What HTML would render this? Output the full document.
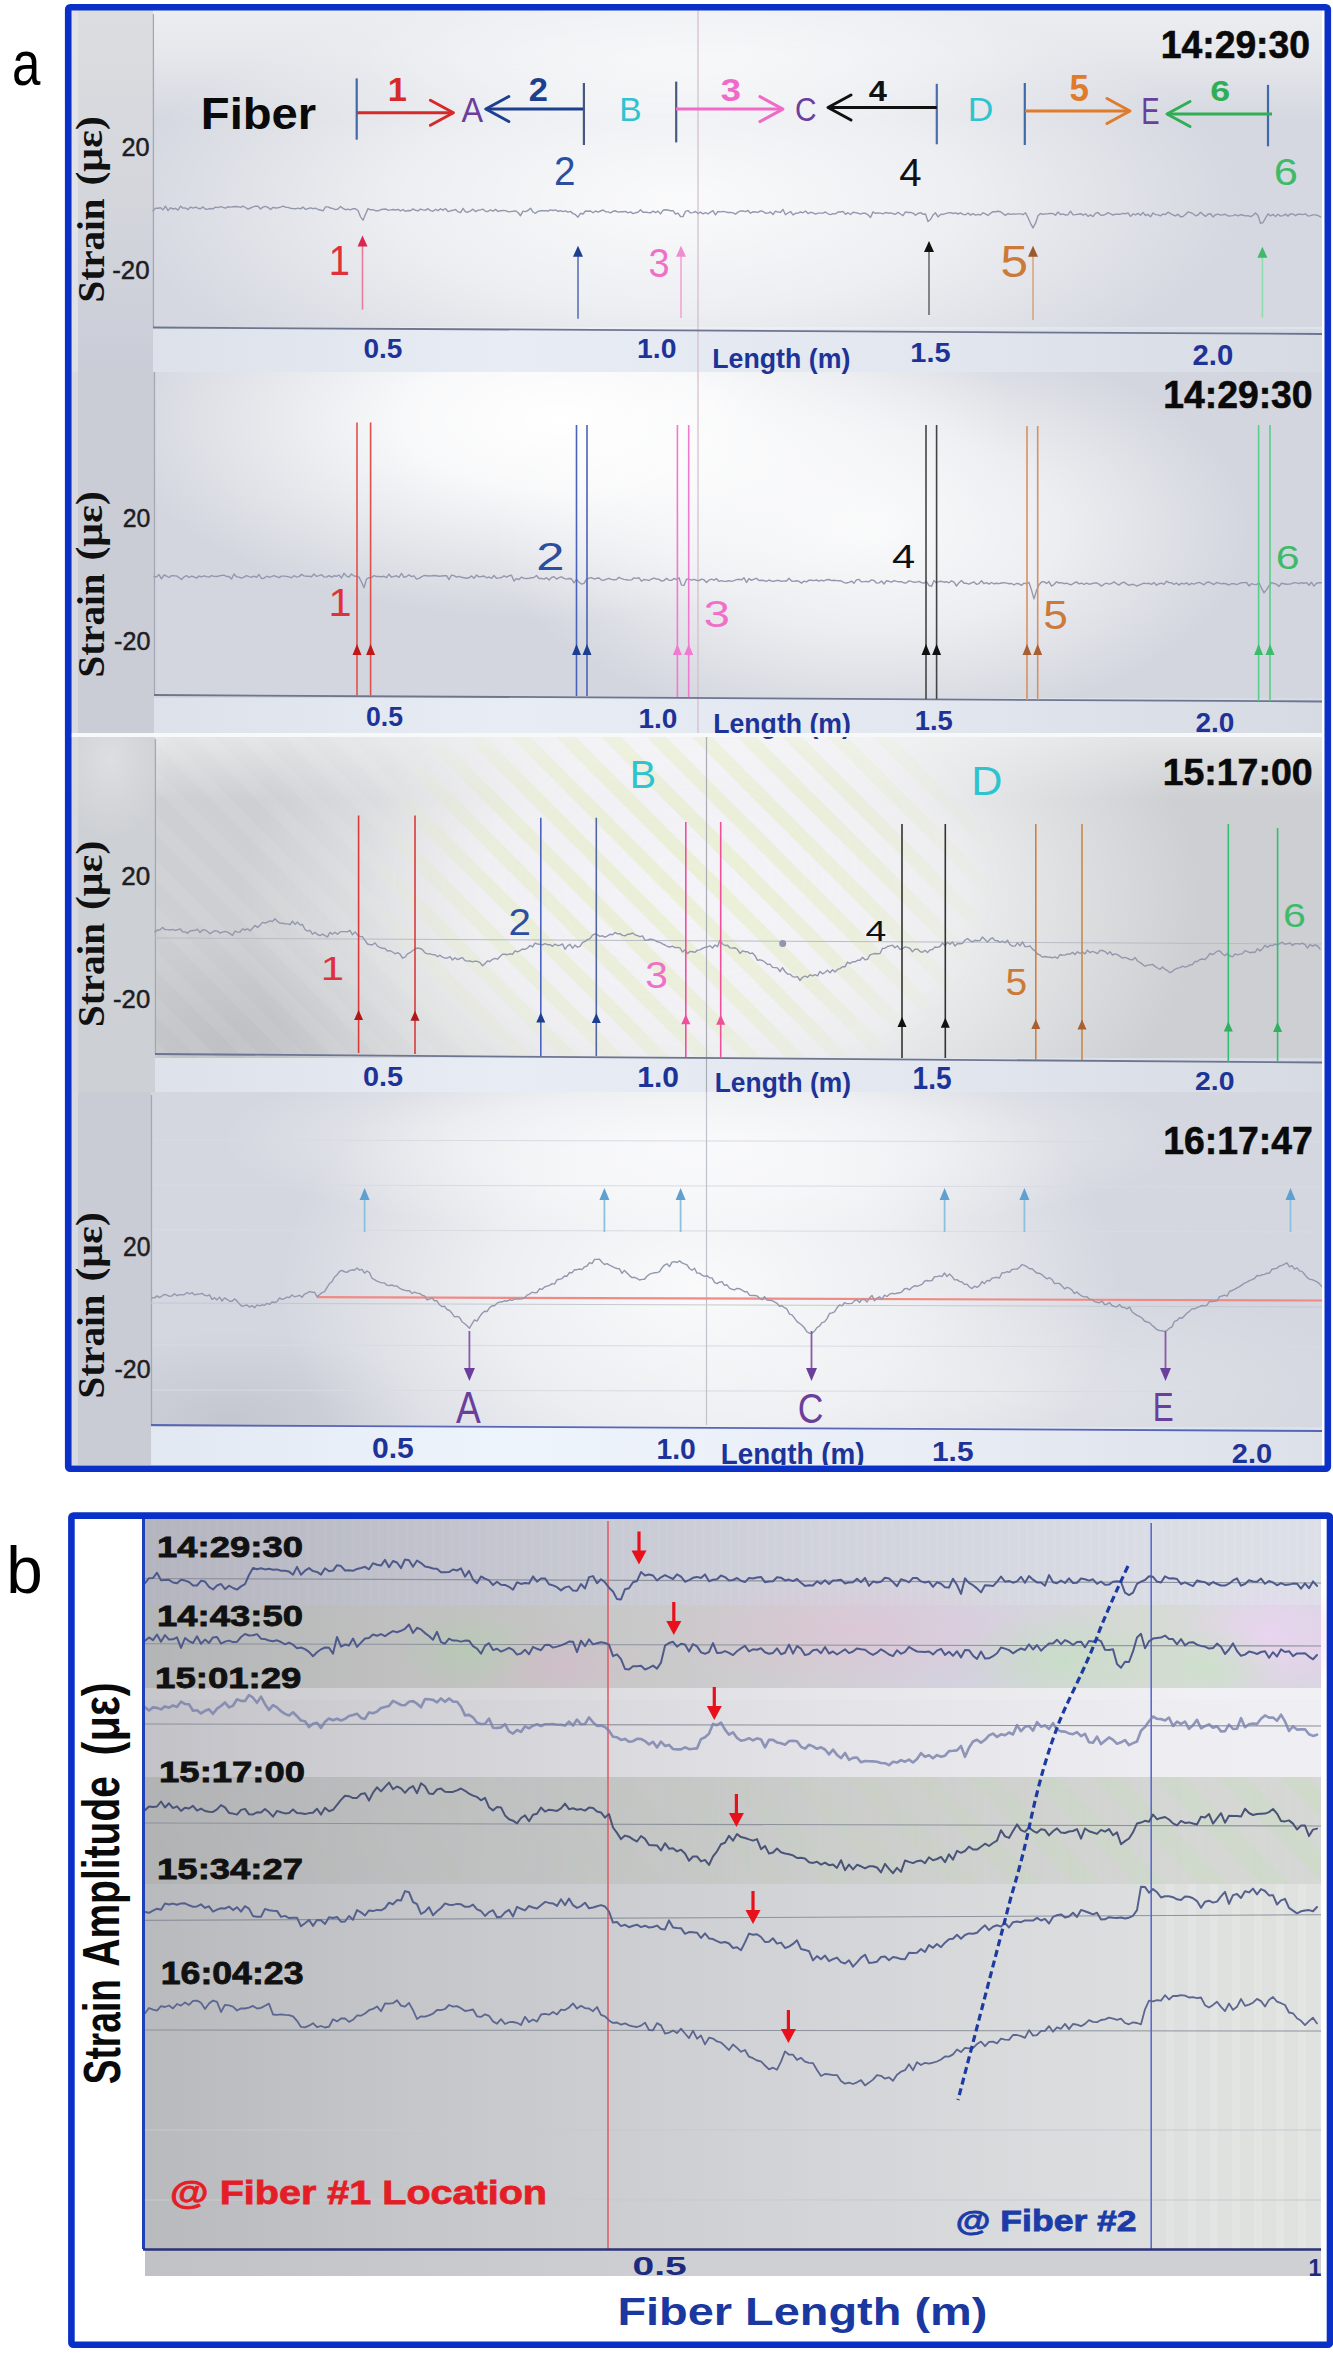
<!DOCTYPE html>
<html><head><meta charset="utf-8"><style>
html,body{margin:0;padding:0;background:#fff;}
body{width:1333px;height:2363px;overflow:hidden;}
svg{display:block;}
text{white-space:pre;}
</style></head><body>
<svg width="1333" height="2363" viewBox="0 0 1333 2363">
<rect x="0" y="0" width="1333" height="2363" fill="#ffffff"/>
<defs><radialGradient id="gl85"><stop offset="0" stop-color="#fff" stop-opacity="0.88"/><stop offset="0.5" stop-color="#fff" stop-opacity="0.58"/><stop offset="1" stop-color="#fff" stop-opacity="0"/></radialGradient><radialGradient id="gl100"><stop offset="0" stop-color="#fff" stop-opacity="1"/><stop offset="0.35" stop-color="#fff" stop-opacity="0.85"/><stop offset="1" stop-color="#fff" stop-opacity="0"/></radialGradient><radialGradient id="gl80"><stop offset="0" stop-color="#fff" stop-opacity="0.8"/><stop offset="0.5" stop-color="#fff" stop-opacity="0.62"/><stop offset="1" stop-color="#fff" stop-opacity="0"/></radialGradient><radialGradient id="gl50"><stop offset="0" stop-color="#fff" stop-opacity="0.5"/><stop offset="1" stop-color="#fff" stop-opacity="0"/></radialGradient><radialGradient id="sh"><stop offset="0" stop-color="#8a8c94" stop-opacity="0.22"/><stop offset="1" stop-color="#8a8c94" stop-opacity="0"/></radialGradient><radialGradient id="maskG"><stop offset="0" stop-color="#fff" stop-opacity="1"/><stop offset="0.6" stop-color="#fff" stop-opacity="0.7"/><stop offset="1" stop-color="#fff" stop-opacity="0"/></radialGradient><pattern id="stripL" width="32" height="32" patternUnits="userSpaceOnUse" patternTransform="rotate(-45)"><rect width="32" height="32" fill="#f4f2f8"/><rect width="14" height="32" fill="#e6edc8"/></pattern><pattern id="stripG" width="32" height="32" patternUnits="userSpaceOnUse" patternTransform="rotate(-45)"><rect width="14" height="32" fill="#ffffff" fill-opacity="0.06"/></pattern><mask id="m3"><rect x="360" y="640" width="640" height="480" fill="url(#maskG)"/></mask><linearGradient id="topW" x1="0" y1="0" x2="0" y2="1"><stop offset="0" stop-color="#fff" stop-opacity="0.55"/><stop offset="0.4" stop-color="#fff" stop-opacity="0.4"/><stop offset="1" stop-color="#fff" stop-opacity="0"/></linearGradient><linearGradient id="belowG" x1="0" y1="0" x2="1" y2="0"><stop offset="0" stop-color="#dce1ea"/><stop offset="0.3" stop-color="#e7ecf5"/><stop offset="0.65" stop-color="#e3e7ef"/><stop offset="1" stop-color="#d6dae2"/></linearGradient><linearGradient id="belowG4" x1="0" y1="0" x2="1" y2="0"><stop offset="0" stop-color="#e2e8f2"/><stop offset="0.3" stop-color="#eef4fc"/><stop offset="0.65" stop-color="#e8edf6"/><stop offset="1" stop-color="#dce0e8"/></linearGradient><linearGradient id="lsP1v" x1="0" y1="0" x2="0" y2="1"><stop offset="0" stop-color="#dcdde0"/><stop offset="0.5" stop-color="#d4d6dc"/><stop offset="1" stop-color="#cacdd8"/></linearGradient><linearGradient id="topW3" x1="0" y1="0" x2="0" y2="1"><stop offset="0" stop-color="#fff" stop-opacity="0.45"/><stop offset="1" stop-color="#fff" stop-opacity="0"/></linearGradient><clipPath id="cP1"><rect x="71" y="10" width="1251" height="362"/></clipPath><clipPath id="cP2"><rect x="71" y="372" width="1251" height="361"/></clipPath><clipPath id="cP3"><rect x="71" y="737" width="1251" height="355"/></clipPath><clipPath id="cP4"><rect x="71" y="1092" width="1251" height="373"/></clipPath><clipPath id="clipA"><rect x="71" y="10" width="1251" height="1455"/></clipPath></defs>
<g clip-path="url(#clipA)">
<rect x="71" y="10" width="1251" height="1455" fill="#d8dbe2" />
<g clip-path="url(#cP1)">
<rect x="153" y="10" width="1169" height="317" fill="#d5d8e0" />
<rect x="153" y="327" width="1169" height="45" fill="#dfe3eb" />
<ellipse cx="680" cy="200" rx="560" ry="220" fill="url(#gl85)"/>
<rect x="153" y="10" width="1169" height="110" fill="url(#topW)"/>
<ellipse cx="700" cy="60" rx="350" ry="70" fill="url(#gl50)"/>
<rect x="153" y="329" width="1169" height="43" fill="url(#belowG)"/>
<rect x="71" y="10" width="82" height="362" fill="url(#lsP1v)" />
<rect x="72" y="10" width="6" height="362" fill="#e4e5ea" opacity="0.8"/>
</g>
<g clip-path="url(#cP2)">
<rect x="154" y="372" width="1168" height="361" fill="#d3d6de" />
<ellipse cx="560" cy="420" rx="450" ry="200" fill="url(#gl100)"/>
<ellipse cx="870" cy="530" rx="380" ry="200" fill="url(#gl85)"/>
<rect x="154" y="698" width="1168" height="35" fill="url(#belowG)"/>
<rect x="71" y="372" width="83" height="361" fill="#cacdd6" />
<rect x="72" y="372" width="6" height="361" fill="#dcdde4" opacity="0.8"/>
</g>
<rect x="71" y="733" width="1251" height="4" fill="#f7f8fa" />
<g clip-path="url(#cP3)">
<rect x="155" y="737" width="1167" height="355" fill="#cdcfd2" />
<ellipse cx="230" cy="1040" rx="200" ry="110" fill="url(#sh)"/>
<ellipse cx="720" cy="900" rx="480" ry="330" fill="url(#gl80)"/>
<rect x="155" y="737" width="1167" height="63" fill="url(#topW3)"/>
<rect x="155" y="737" width="605" height="321" fill="url(#stripG)" />
<rect x="360" y="737" width="640" height="321" fill="url(#stripL)" mask="url(#m3)" opacity="0.7"/>
<rect x="155" y="1058" width="1167" height="34" fill="url(#belowG)"/>
<rect x="71" y="737" width="84" height="355" fill="#cdd0d4" />
<ellipse cx="110" cy="760" rx="60" ry="80" fill="url(#gl50)" opacity="0.6"/>
<rect x="72" y="737" width="6" height="355" fill="#dadbe0" opacity="0.8"/>
</g>
<g clip-path="url(#cP4)">
<rect x="151" y="1092" width="1171" height="373" fill="#d4d7df" />
<ellipse cx="230" cy="1420" rx="200" ry="90" fill="url(#sh)"/>
<ellipse cx="700" cy="1290" rx="420" ry="280" fill="url(#gl85)"/>
<ellipse cx="700" cy="1140" rx="480" ry="100" fill="url(#gl85)" opacity="0.8"/>
<ellipse cx="1000" cy="1390" rx="380" ry="110" fill="url(#gl50)" opacity="0.6"/>
<rect x="151" y="1427" width="1171" height="38" fill="url(#belowG4)"/>
<rect x="71" y="1092" width="80" height="373" fill="#c9ccd5" />
<rect x="72" y="1092" width="6" height="373" fill="#dcdde4" opacity="0.8"/>
</g>
<rect x="1322" y="10" width="4" height="1455" fill="#f4f6fa" />
<line x1="151" y1="1140" x2="1322" y2="1142" stroke="#d8dbe2" stroke-width="1" />
<line x1="151" y1="1185" x2="1322" y2="1187" stroke="#d8dbe2" stroke-width="1" />
<line x1="151" y1="1230" x2="1322" y2="1232" stroke="#d8dbe2" stroke-width="1" />
<line x1="151" y1="1345" x2="1322" y2="1347" stroke="#d8dbe2" stroke-width="1" />
<line x1="151" y1="1390" x2="1322" y2="1392" stroke="#d8dbe2" stroke-width="1" />
<line x1="698" y1="10" x2="698" y2="733" stroke="#d2bcc8" stroke-width="1.2" />
<line x1="706.5" y1="737" x2="706.5" y2="1092" stroke="#a9acb4" stroke-width="1.2" />
<line x1="706.5" y1="1092" x2="706.5" y2="1425" stroke="#bfc2c9" stroke-width="1.2" />
<line x1="153.4" y1="14" x2="153.4" y2="327" stroke="#a4a8b6" stroke-width="1.3" />
<line x1="153" y1="327.5" x2="1322" y2="334" stroke="#6e7590" stroke-width="1.8" />
<line x1="154.5" y1="372" x2="154.5" y2="694" stroke="#a4a8b6" stroke-width="1.3" />
<line x1="154" y1="695" x2="1322" y2="701.5" stroke="#6e7590" stroke-width="1.8" />
<line x1="155.4" y1="739" x2="155.4" y2="1054" stroke="#a4a8b6" stroke-width="1.3" />
<line x1="155" y1="1054" x2="1322" y2="1062.5" stroke="#6e7590" stroke-width="1.8" />
<line x1="151.5" y1="1095" x2="151.5" y2="1425" stroke="#a4a8b6" stroke-width="1.3" />
<line x1="151" y1="1425" x2="1322" y2="1431" stroke="#5866b8" stroke-width="1.8" />
<text x="0" y="0" transform="translate(103.63,302.58) rotate(-90)" font-family="Liberation Serif" font-size="37.52" font-weight="bold" fill="#111" textLength="104.17" lengthAdjust="spacingAndGlyphs">Strain</text>
<text x="0" y="0" transform="translate(102.48,185.54) rotate(-90)" font-family="Liberation Serif" font-size="38.16" font-weight="bold" fill="#111" textLength="69.37" lengthAdjust="spacingAndGlyphs">(με)</text>
<text x="0" y="0" transform="translate(103.63,677.58) rotate(-90)" font-family="Liberation Serif" font-size="37.52" font-weight="bold" fill="#111" textLength="104.17" lengthAdjust="spacingAndGlyphs">Strain</text>
<text x="0" y="0" transform="translate(102.48,560.54) rotate(-90)" font-family="Liberation Serif" font-size="38.16" font-weight="bold" fill="#111" textLength="69.37" lengthAdjust="spacingAndGlyphs">(με)</text>
<text x="0" y="0" transform="translate(103.63,1027.08) rotate(-90)" font-family="Liberation Serif" font-size="37.52" font-weight="bold" fill="#111" textLength="104.17" lengthAdjust="spacingAndGlyphs">Strain</text>
<text x="0" y="0" transform="translate(102.48,910.04) rotate(-90)" font-family="Liberation Serif" font-size="38.16" font-weight="bold" fill="#111" textLength="69.37" lengthAdjust="spacingAndGlyphs">(με)</text>
<text x="0" y="0" transform="translate(103.63,1398.58) rotate(-90)" font-family="Liberation Serif" font-size="37.52" font-weight="bold" fill="#111" textLength="104.17" lengthAdjust="spacingAndGlyphs">Strain</text>
<text x="0" y="0" transform="translate(102.48,1281.54) rotate(-90)" font-family="Liberation Serif" font-size="38.16" font-weight="bold" fill="#111" textLength="69.37" lengthAdjust="spacingAndGlyphs">(με)</text>
<text x="121.43" y="156.00" font-family="Liberation Sans" font-size="26.07" font-weight="normal" fill="#1e1e22" textLength="28.16" lengthAdjust="spacingAndGlyphs" stroke="#1e1e22" stroke-width="0.5">20</text>
<text x="112.25" y="278.80" font-family="Liberation Sans" font-size="25.92" font-weight="normal" fill="#1e1e22" textLength="37.36" lengthAdjust="spacingAndGlyphs" stroke="#1e1e22" stroke-width="0.5">-20</text>
<text x="122.75" y="527.40" font-family="Liberation Sans" font-size="26.64" font-weight="normal" fill="#1e1e22" textLength="27.62" lengthAdjust="spacingAndGlyphs" stroke="#1e1e22" stroke-width="0.5">20</text>
<text x="114.08" y="650.40" font-family="Liberation Sans" font-size="26.64" font-weight="normal" fill="#1e1e22" textLength="36.30" lengthAdjust="spacingAndGlyphs" stroke="#1e1e22" stroke-width="0.5">-20</text>
<text x="121.29" y="884.80" font-family="Liberation Sans" font-size="26.64" font-weight="normal" fill="#1e1e22" textLength="28.92" lengthAdjust="spacingAndGlyphs" stroke="#1e1e22" stroke-width="0.5">20</text>
<text x="113.06" y="1007.80" font-family="Liberation Sans" font-size="26.64" font-weight="normal" fill="#1e1e22" textLength="37.15" lengthAdjust="spacingAndGlyphs" stroke="#1e1e22" stroke-width="0.5">-20</text>
<text x="123.06" y="1256.10" font-family="Liberation Sans" font-size="26.92" font-weight="normal" fill="#1e1e22" textLength="27.51" lengthAdjust="spacingAndGlyphs" stroke="#1e1e22" stroke-width="0.5">20</text>
<text x="114.59" y="1377.80" font-family="Liberation Sans" font-size="26.64" font-weight="normal" fill="#1e1e22" textLength="35.98" lengthAdjust="spacingAndGlyphs" stroke="#1e1e22" stroke-width="0.5">-20</text>
<text x="363.39" y="357.60" font-family="Liberation Sans" font-size="28.36" font-weight="bold" fill="#1d3398" textLength="38.99" lengthAdjust="spacingAndGlyphs" >0.5</text>
<text x="637.01" y="358.20" font-family="Liberation Sans" font-size="28.36" font-weight="bold" fill="#1d3398" textLength="39.45" lengthAdjust="spacingAndGlyphs" >1.0</text>
<text x="910.38" y="361.60" font-family="Liberation Sans" font-size="28.49" font-weight="bold" fill="#1d3398" textLength="40.23" lengthAdjust="spacingAndGlyphs" >1.5</text>
<text x="1192.48" y="364.60" font-family="Liberation Sans" font-size="28.93" font-weight="bold" fill="#1d3398" textLength="40.72" lengthAdjust="spacingAndGlyphs" >2.0</text>
<text x="366.05" y="726.30" font-family="Liberation Sans" font-size="27.07" font-weight="bold" fill="#1d3398" textLength="36.99" lengthAdjust="spacingAndGlyphs" >0.5</text>
<text x="638.54" y="727.60" font-family="Liberation Sans" font-size="27.50" font-weight="bold" fill="#1d3398" textLength="38.91" lengthAdjust="spacingAndGlyphs" >1.0</text>
<text x="914.77" y="729.60" font-family="Liberation Sans" font-size="27.91" font-weight="bold" fill="#1d3398" textLength="38.09" lengthAdjust="spacingAndGlyphs" >1.5</text>
<text x="1195.53" y="731.60" font-family="Liberation Sans" font-size="27.50" font-weight="bold" fill="#1d3398" textLength="38.92" lengthAdjust="spacingAndGlyphs" >2.0</text>
<text x="362.96" y="1086.20" font-family="Liberation Sans" font-size="26.92" font-weight="bold" fill="#1d3398" textLength="40.15" lengthAdjust="spacingAndGlyphs" >0.5</text>
<text x="637.21" y="1087.20" font-family="Liberation Sans" font-size="30.22" font-weight="bold" fill="#1d3398" textLength="41.72" lengthAdjust="spacingAndGlyphs" >1.0</text>
<text x="912.53" y="1089.30" font-family="Liberation Sans" font-size="30.67" font-weight="bold" fill="#1d3398" textLength="39.05" lengthAdjust="spacingAndGlyphs" >1.5</text>
<text x="1195.02" y="1090.00" font-family="Liberation Sans" font-size="26.64" font-weight="bold" fill="#1d3398" textLength="39.45" lengthAdjust="spacingAndGlyphs" >2.0</text>
<text x="371.91" y="1457.60" font-family="Liberation Sans" font-size="28.93" font-weight="bold" fill="#1d3398" textLength="41.83" lengthAdjust="spacingAndGlyphs" >0.5</text>
<text x="656.52" y="1458.60" font-family="Liberation Sans" font-size="29.79" font-weight="bold" fill="#1d3398" textLength="39.34" lengthAdjust="spacingAndGlyphs" >1.0</text>
<text x="932.02" y="1460.60" font-family="Liberation Sans" font-size="27.91" font-weight="bold" fill="#1d3398" textLength="41.51" lengthAdjust="spacingAndGlyphs" >1.5</text>
<text x="1231.89" y="1462.60" font-family="Liberation Sans" font-size="27.50" font-weight="bold" fill="#1d3398" textLength="40.40" lengthAdjust="spacingAndGlyphs" >2.0</text>
<text x="712.21" y="368.00" font-family="Liberation Sans" font-size="27.60" font-weight="bold" fill="#1d3398" textLength="138.12" lengthAdjust="spacingAndGlyphs" >Length (m)</text>
<text x="713.22" y="733.00" font-family="Liberation Sans" font-size="27.60" font-weight="bold" fill="#1d3398" textLength="137.71" lengthAdjust="spacingAndGlyphs" >Length (m)</text>
<text x="714.74" y="1092.00" font-family="Liberation Sans" font-size="27.60" font-weight="bold" fill="#1d3398" textLength="136.28" lengthAdjust="spacingAndGlyphs" >Length (m)</text>
<text x="720.74" y="1464.00" font-family="Liberation Sans" font-size="28.98" font-weight="bold" fill="#1d3398" textLength="143.85" lengthAdjust="spacingAndGlyphs" >Length (m)</text>
<text x="1160.75" y="57.90" font-family="Liberation Sans" font-size="38.53" font-weight="bold" fill="#0a0a0a" textLength="149.28" lengthAdjust="spacingAndGlyphs" stroke="#0a0a0a" stroke-width="0.6">14:29:30</text>
<text x="1163.25" y="407.90" font-family="Liberation Sans" font-size="38.53" font-weight="bold" fill="#0a0a0a" textLength="149.38" lengthAdjust="spacingAndGlyphs" stroke="#0a0a0a" stroke-width="0.6">14:29:30</text>
<text x="1162.64" y="785.40" font-family="Liberation Sans" font-size="37.52" font-weight="bold" fill="#0a0a0a" textLength="150.00" lengthAdjust="spacingAndGlyphs" stroke="#0a0a0a" stroke-width="0.6">15:17:00</text>
<text x="1163.25" y="1154.10" font-family="Liberation Sans" font-size="38.38" font-weight="bold" fill="#0a0a0a" textLength="149.49" lengthAdjust="spacingAndGlyphs" stroke="#0a0a0a" stroke-width="0.6">16:17:47</text>
<text x="200.84" y="129.00" font-family="Liberation Sans" font-size="44.71" font-weight="bold" fill="#0a0a0a" textLength="115.37" lengthAdjust="spacingAndGlyphs" >Fiber</text>
<line x1="356.7" y1="78.4" x2="356.7" y2="139.7" stroke="#3f6aa6" stroke-width="2.2" />
<line x1="583.9" y1="83" x2="583.9" y2="145" stroke="#44587e" stroke-width="2.2" />
<line x1="676.2" y1="81.6" x2="676.2" y2="142.4" stroke="#4a5a7e" stroke-width="2.2" />
<line x1="936.8" y1="83.8" x2="936.8" y2="144.3" stroke="#4f6bb0" stroke-width="2.2" />
<line x1="1024.8" y1="83" x2="1024.8" y2="145" stroke="#3f6aa6" stroke-width="2.2" />
<line x1="1268" y1="84.9" x2="1268" y2="146.3" stroke="#3f6aa6" stroke-width="2.2" />
<line x1="357" y1="112.7" x2="453.4" y2="112.7" stroke="#d62a2a" stroke-width="3"/>
<polyline points="430.4,100.2 453.4,112.7 430.4,125.2" stroke="#d62a2a" stroke-width="3" fill="none" stroke-linejoin="round" stroke-linecap="round" />
<line x1="583" y1="109" x2="485.8" y2="109" stroke="#1d3f8f" stroke-width="3"/>
<polyline points="508.8,96.5 485.8,109.0 508.8,121.5" stroke="#1d3f8f" stroke-width="3" fill="none" stroke-linejoin="round" stroke-linecap="round" />
<line x1="676" y1="109.1" x2="782.9" y2="109.1" stroke="#ee6cc8" stroke-width="3"/>
<polyline points="759.9,96.6 782.9,109.1 759.9,121.6" stroke="#ee6cc8" stroke-width="3" fill="none" stroke-linejoin="round" stroke-linecap="round" />
<line x1="936.8" y1="107.5" x2="828" y2="107.5" stroke="#111111" stroke-width="3"/>
<polyline points="851.0,95.0 828.0,107.5 851.0,120.0" stroke="#111111" stroke-width="3" fill="none" stroke-linejoin="round" stroke-linecap="round" />
<line x1="1025" y1="111" x2="1130" y2="111" stroke="#e07b2c" stroke-width="3"/>
<polyline points="1107.0,98.5 1130.0,111.0 1107.0,123.5" stroke="#e07b2c" stroke-width="3" fill="none" stroke-linejoin="round" stroke-linecap="round" />
<line x1="1272" y1="114" x2="1167" y2="114" stroke="#2fae55" stroke-width="3"/>
<polyline points="1190.0,101.5 1167.0,114.0 1190.0,126.5" stroke="#2fae55" stroke-width="3" fill="none" stroke-linejoin="round" stroke-linecap="round" />
<text x="387.83" y="100.50" font-family="Liberation Sans" font-size="33.43" font-weight="bold" fill="#d62a2a" textLength="19.12" lengthAdjust="spacingAndGlyphs" >1</text>
<text x="528.80" y="100.50" font-family="Liberation Sans" font-size="32.94" font-weight="bold" fill="#1d3f8f" textLength="19.18" lengthAdjust="spacingAndGlyphs" >2</text>
<text x="720.76" y="100.50" font-family="Liberation Sans" font-size="30.79" font-weight="bold" fill="#ee6cc8" textLength="20.25" lengthAdjust="spacingAndGlyphs" >3</text>
<text x="868.81" y="100.50" font-family="Liberation Sans" font-size="29.36" font-weight="bold" fill="#111111" textLength="18.17" lengthAdjust="spacingAndGlyphs" >4</text>
<text x="1069.52" y="100.50" font-family="Liberation Sans" font-size="36.05" font-weight="bold" fill="#e07b2c" textLength="19.45" lengthAdjust="spacingAndGlyphs" >5</text>
<text x="1210.39" y="100.50" font-family="Liberation Sans" font-size="30.22" font-weight="bold" fill="#2fae55" textLength="19.90" lengthAdjust="spacingAndGlyphs" >6</text>
<text x="461.44" y="121.60" font-family="Liberation Sans" font-size="34.59" font-weight="normal" fill="#6a3f9c" textLength="21.63" lengthAdjust="spacingAndGlyphs" >A</text>
<text x="619.26" y="120.80" font-family="Liberation Sans" font-size="33.43" font-weight="normal" fill="#2ec3cf" textLength="22.31" lengthAdjust="spacingAndGlyphs" >B</text>
<text x="794.88" y="120.80" font-family="Liberation Sans" font-size="32.94" font-weight="normal" fill="#6a3f9c" textLength="21.55" lengthAdjust="spacingAndGlyphs" >C</text>
<text x="967.69" y="121.00" font-family="Liberation Sans" font-size="33.72" font-weight="normal" fill="#2ec3cf" textLength="25.61" lengthAdjust="spacingAndGlyphs" >D</text>
<text x="1141.34" y="124.00" font-family="Liberation Sans" font-size="36.77" font-weight="normal" fill="#6a3f9c" textLength="18.34" lengthAdjust="spacingAndGlyphs" >E</text>
<text x="554.06" y="184.80" font-family="Liberation Sans" font-size="39.81" font-weight="normal" fill="#2b4ea0" textLength="21.49" lengthAdjust="spacingAndGlyphs" >2</text>
<text x="899.38" y="185.60" font-family="Liberation Sans" font-size="39.24" font-weight="normal" fill="#111111" textLength="22.40" lengthAdjust="spacingAndGlyphs" >4</text>
<text x="1273.80" y="184.60" font-family="Liberation Sans" font-size="37.24" font-weight="normal" fill="#3dbb6a" textLength="24.11" lengthAdjust="spacingAndGlyphs" >6</text>
<polyline points="153.0,210.8 155.5,208.3 158.0,208.3 160.5,207.7 163.0,209.8 165.5,206.2 168.0,210.6 170.5,207.8 173.0,209.0 175.5,208.3 178.0,210.1 180.5,206.2 183.0,208.1 185.5,208.0 188.0,209.6 190.5,207.1 193.0,208.1 195.5,207.2 198.0,208.2 200.5,208.8 203.0,206.9 205.5,209.3 208.0,209.0 210.5,208.5 213.0,208.9 215.5,207.1 218.0,207.6 220.5,206.7 223.0,207.4 225.5,208.2 228.0,206.8 230.5,207.1 233.0,206.7 235.5,206.5 238.0,206.7 240.5,207.4 243.0,206.1 245.5,207.5 248.0,209.1 250.5,208.0 253.0,206.9 255.5,206.1 258.0,206.2 260.5,208.9 263.0,207.1 265.5,206.4 268.0,207.4 270.5,209.5 273.0,207.4 275.5,208.0 278.0,207.7 280.5,207.1 283.0,206.2 285.5,207.2 288.0,207.4 290.5,208.3 293.0,208.6 295.5,208.8 298.0,208.1 300.5,208.8 303.0,207.1 305.5,209.4 308.0,208.6 310.5,207.8 313.0,208.7 315.5,208.1 318.0,209.5 320.5,210.0 323.0,210.8 325.5,206.9 328.0,206.9 330.5,208.0 333.0,208.7 335.5,209.6 338.0,209.0 340.5,206.5 343.0,208.4 345.5,209.7 348.0,209.1 350.5,209.8 353.0,208.7 355.5,208.8 358.0,210.5 360.5,216.8 363.0,220.2 365.5,214.2 368.0,208.6 370.5,209.8 373.0,209.6 375.5,210.7 378.0,210.8 380.5,209.8 383.0,209.2 385.5,209.0 388.0,210.2 390.5,209.9 393.0,209.5 395.5,210.0 398.0,209.3 400.5,210.8 403.0,209.5 405.5,211.4 408.0,210.5 410.5,210.7 413.0,208.9 415.5,210.3 418.0,210.9 420.5,209.1 423.0,209.9 425.5,210.2 428.0,208.7 430.5,210.6 433.0,211.2 435.5,209.3 438.0,210.6 440.5,208.8 443.0,210.2 445.5,208.5 448.0,211.6 450.5,210.8 453.0,210.3 455.5,209.5 458.0,211.8 460.5,212.6 463.0,208.4 465.5,211.8 468.0,212.2 470.5,210.8 473.0,209.2 475.5,211.5 478.0,210.3 480.5,209.9 483.0,209.2 485.5,211.2 488.0,211.5 490.5,209.9 493.0,211.2 495.5,209.4 498.0,211.5 500.5,210.7 503.0,210.5 505.5,210.6 508.0,211.7 510.5,211.6 513.0,211.3 515.5,210.9 518.0,212.5 520.5,215.7 523.0,211.1 525.5,211.6 528.0,210.5 530.5,208.2 533.0,212.0 535.5,213.3 538.0,211.4 540.5,210.8 543.0,210.8 545.5,210.8 548.0,211.0 550.5,209.8 553.0,210.5 555.5,209.9 558.0,211.3 560.5,210.7 563.0,211.6 565.5,210.9 568.0,212.2 570.5,211.4 573.0,213.6 575.5,214.7 578.0,217.2 580.5,213.3 583.0,214.0 585.5,211.0 588.0,211.3 590.5,211.0 593.0,212.8 595.5,211.0 598.0,212.1 600.5,211.0 603.0,210.0 605.5,211.7 608.0,211.9 610.5,212.8 613.0,211.3 615.5,210.8 618.0,212.1 620.5,211.7 623.0,211.8 625.5,211.4 628.0,212.8 630.5,211.9 633.0,213.6 635.5,212.8 638.0,212.3 640.5,209.8 643.0,212.3 645.5,212.1 648.0,212.5 650.5,212.8 653.0,211.2 655.5,212.6 658.0,211.1 660.5,213.9 663.0,210.3 665.5,209.8 668.0,210.0 670.5,210.8 673.0,210.6 675.5,214.0 678.0,213.2 680.5,216.5 683.0,216.6 685.5,211.3 688.0,210.6 690.5,212.9 693.0,212.6 695.5,211.5 698.0,213.5 700.5,212.1 703.0,213.8 705.5,212.6 708.0,213.8 710.5,212.2 713.0,210.7 715.5,214.8 718.0,211.5 720.5,211.9 723.0,211.4 725.5,211.9 728.0,212.5 730.5,212.4 733.0,212.9 735.5,214.2 738.0,212.1 740.5,210.9 743.0,211.0 745.5,211.6 748.0,210.5 750.5,213.2 753.0,211.8 755.5,212.0 758.0,212.4 760.5,210.9 763.0,211.5 765.5,213.2 768.0,213.1 770.5,212.0 773.0,214.5 775.5,211.1 778.0,212.1 780.5,212.3 783.0,209.5 785.5,214.7 788.0,213.0 790.5,211.5 793.0,214.9 795.5,213.3 798.0,213.1 800.5,212.0 803.0,212.8 805.5,211.0 808.0,213.6 810.5,212.3 813.0,212.9 815.5,214.1 818.0,213.1 820.5,213.1 823.0,213.1 825.5,212.0 828.0,213.8 830.5,214.6 833.0,213.7 835.5,213.9 838.0,212.0 840.5,212.0 843.0,211.4 845.5,214.3 848.0,212.7 850.5,214.5 853.0,212.2 855.5,212.6 858.0,213.2 860.5,214.1 863.0,213.2 865.5,213.3 868.0,214.8 870.5,217.5 873.0,211.9 875.5,213.3 878.0,213.0 880.5,213.1 883.0,213.8 885.5,212.5 888.0,213.2 890.5,212.9 893.0,213.7 895.5,214.2 898.0,212.3 900.5,214.0 903.0,215.6 905.5,211.8 908.0,212.5 910.5,212.4 913.0,213.1 915.5,215.2 918.0,213.5 920.5,212.7 923.0,214.2 925.5,214.0 928.0,221.5 930.5,219.5 933.0,215.1 935.5,212.8 938.0,216.9 940.5,214.5 943.0,214.3 945.5,213.6 948.0,212.9 950.5,212.7 953.0,213.5 955.5,212.8 958.0,214.0 960.5,212.8 963.0,214.4 965.5,214.8 968.0,213.0 970.5,215.1 973.0,213.6 975.5,215.1 978.0,214.3 980.5,215.1 983.0,212.8 985.5,213.8 988.0,215.5 990.5,213.3 993.0,211.7 995.5,211.8 998.0,211.2 1000.5,211.7 1003.0,213.6 1005.5,215.4 1008.0,213.5 1010.5,214.4 1013.0,213.9 1015.5,214.1 1018.0,213.9 1020.5,213.9 1023.0,214.6 1025.5,212.8 1028.0,217.5 1030.5,223.3 1033.0,227.9 1035.5,223.2 1038.0,215.7 1040.5,213.5 1043.0,214.3 1045.5,213.9 1048.0,213.7 1050.5,213.4 1053.0,213.6 1055.5,215.2 1058.0,212.0 1060.5,214.6 1063.0,213.9 1065.5,215.0 1068.0,214.8 1070.5,211.2 1073.0,214.9 1075.5,214.6 1078.0,214.3 1080.5,213.7 1083.0,215.2 1085.5,213.8 1088.0,216.3 1090.5,214.9 1093.0,216.6 1095.5,213.4 1098.0,212.4 1100.5,215.1 1103.0,215.3 1105.5,214.4 1108.0,212.6 1110.5,213.9 1113.0,215.0 1115.5,214.2 1118.0,214.2 1120.5,214.2 1123.0,213.4 1125.5,213.8 1128.0,212.8 1130.5,216.4 1133.0,213.9 1135.5,214.9 1138.0,213.3 1140.5,215.3 1143.0,212.4 1145.5,215.5 1148.0,214.4 1150.5,216.8 1153.0,213.0 1155.5,214.6 1158.0,214.9 1160.5,215.9 1163.0,214.0 1165.5,214.6 1168.0,212.2 1170.5,213.6 1173.0,215.0 1175.5,215.8 1178.0,214.2 1180.5,216.8 1183.0,216.5 1185.5,214.5 1188.0,211.9 1190.5,212.6 1193.0,213.7 1195.5,215.8 1198.0,215.0 1200.5,212.3 1203.0,214.4 1205.5,216.4 1208.0,214.2 1210.5,213.8 1213.0,216.9 1215.5,214.7 1218.0,214.1 1220.5,215.1 1223.0,214.7 1225.5,214.2 1228.0,216.0 1230.5,215.9 1233.0,215.6 1235.5,214.6 1238.0,216.0 1240.5,214.7 1243.0,215.3 1245.5,215.9 1248.0,215.7 1250.5,216.7 1253.0,215.3 1255.5,212.9 1258.0,215.5 1260.5,223.3 1263.0,222.5 1265.5,218.2 1268.0,213.9 1270.5,215.9 1273.0,214.4 1275.5,216.5 1278.0,214.3 1280.5,216.1 1283.0,215.6 1285.5,214.1 1288.0,216.1 1290.5,213.9 1293.0,214.0 1295.5,215.7 1298.0,214.2 1300.5,214.3 1303.0,214.6 1305.5,213.8 1308.0,216.1 1310.5,215.6 1313.0,214.9 1315.5,214.9 1318.0,215.5 1320.5,216.9" stroke="#9398ae" stroke-width="1.4" fill="none" stroke-linejoin="round" stroke-linecap="round" />
<line x1="362.5" y1="309.7" x2="362.5" y2="245.4" stroke="#ea7c9e" stroke-width="1.6"/>
<polygon points="357.5,246.4 362.5,235.4 367.5,246.4" fill="#d8284e" />
<line x1="578" y1="318.7" x2="578" y2="255.7" stroke="#5a72b8" stroke-width="1.6"/>
<polygon points="573.0,256.7 578.0,245.7 583.0,256.7" fill="#1e3f8f" />
<line x1="681" y1="318" x2="681" y2="255.7" stroke="#f3a3d8" stroke-width="1.6"/>
<polygon points="676.0,256.7 681.0,245.7 686.0,256.7" fill="#f08cd0" />
<line x1="929" y1="315" x2="929" y2="251" stroke="#6a6a6a" stroke-width="1.6"/>
<polygon points="924.0,252.0 929.0,241.0 934.0,252.0" fill="#111" />
<line x1="1033" y1="320" x2="1033" y2="255.8" stroke="#d8a680" stroke-width="1.6"/>
<polygon points="1028.0,256.8 1033.0,245.8 1038.0,256.8" fill="#9a5a2a" />
<line x1="1262.4" y1="317.6" x2="1262.4" y2="256.7" stroke="#8fdcae" stroke-width="1.6"/>
<polygon points="1257.4,257.7 1262.4,246.7 1267.4,257.7" fill="#3dbb6a" />
<text x="328.70" y="274.60" font-family="Liberation Sans" font-size="42.01" font-weight="normal" fill="#e0303a" textLength="21.15" lengthAdjust="spacingAndGlyphs" >1</text>
<text x="648.55" y="276.70" font-family="Liberation Sans" font-size="41.39" font-weight="normal" fill="#f070c8" textLength="21.11" lengthAdjust="spacingAndGlyphs" >3</text>
<text x="1000.52" y="277.40" font-family="Liberation Sans" font-size="44.62" font-weight="normal" fill="#cc7a3a" textLength="27.57" lengthAdjust="spacingAndGlyphs" >5</text>
<polyline points="154.0,576.5 156.5,576.9 159.0,574.6 161.5,578.8 164.0,575.0 166.5,576.0 169.0,577.5 171.5,575.6 174.0,575.8 176.5,575.9 179.0,577.5 181.5,579.4 184.0,576.9 186.5,575.6 189.0,577.5 191.5,576.2 194.0,576.8 196.5,578.1 199.0,576.0 201.5,576.8 204.0,575.8 206.5,576.6 209.0,577.1 211.5,575.7 214.0,576.4 216.5,576.5 219.0,576.0 221.5,575.4 224.0,575.2 226.5,576.5 229.0,576.4 231.5,579.1 234.0,574.0 236.5,576.8 239.0,577.1 241.5,578.1 244.0,577.2 246.5,575.7 249.0,576.6 251.5,577.2 254.0,576.2 256.5,577.4 259.0,574.5 261.5,578.5 264.0,578.2 266.5,576.2 269.0,577.2 271.5,576.6 274.0,575.6 276.5,576.6 279.0,577.6 281.5,576.1 284.0,576.1 286.5,576.4 289.0,576.9 291.5,577.8 294.0,575.7 296.5,577.0 299.0,576.6 301.5,574.4 304.0,575.9 306.5,576.2 309.0,576.3 311.5,576.7 314.0,574.1 316.5,576.4 319.0,575.6 321.5,574.7 324.0,576.9 326.5,577.1 329.0,575.6 331.5,577.2 334.0,575.8 336.5,576.3 339.0,575.0 341.5,578.0 344.0,573.3 346.5,576.1 349.0,577.0 351.5,574.0 354.0,576.0 356.5,576.1 359.0,577.1 361.5,582.0 364.0,587.7 366.5,579.1 369.0,577.6 371.5,577.5 374.0,575.6 376.5,576.5 379.0,576.5 381.5,576.7 384.0,576.3 386.5,577.6 389.0,574.1 391.5,577.2 394.0,576.4 396.5,575.8 399.0,577.3 401.5,573.4 404.0,577.3 406.5,576.5 409.0,574.9 411.5,576.6 414.0,575.9 416.5,579.1 419.0,578.3 421.5,576.8 424.0,575.5 426.5,575.7 429.0,576.0 431.5,575.8 434.0,575.5 436.5,575.8 439.0,576.2 441.5,576.0 444.0,575.8 446.5,575.6 449.0,579.5 451.5,575.1 454.0,575.6 456.5,577.2 459.0,576.4 461.5,577.3 464.0,577.7 466.5,578.3 469.0,577.7 471.5,575.9 474.0,578.2 476.5,575.1 479.0,576.9 481.5,576.5 484.0,576.0 486.5,577.8 489.0,577.0 491.5,578.3 494.0,575.6 496.5,578.2 499.0,577.9 501.5,577.5 504.0,575.8 506.5,577.1 509.0,575.8 511.5,575.2 514.0,581.1 516.5,578.6 519.0,579.6 521.5,577.1 524.0,578.4 526.5,578.5 529.0,578.4 531.5,577.8 534.0,577.5 536.5,575.5 539.0,578.5 541.5,578.4 544.0,579.1 546.5,577.7 549.0,579.9 551.5,577.5 554.0,576.7 556.5,579.1 559.0,577.6 561.5,576.8 564.0,578.3 566.5,579.1 569.0,578.5 571.5,578.8 574.0,582.8 576.5,579.3 579.0,582.3 581.5,584.1 584.0,583.4 586.5,579.3 589.0,578.1 591.5,577.6 594.0,579.0 596.5,578.3 599.0,578.0 601.5,580.0 604.0,580.2 606.5,579.1 609.0,578.3 611.5,579.4 614.0,579.8 616.5,579.6 619.0,577.3 621.5,578.6 624.0,579.4 626.5,579.7 629.0,580.1 631.5,579.9 634.0,577.9 636.5,578.4 639.0,577.8 641.5,581.2 644.0,579.5 646.5,579.9 649.0,580.5 651.5,579.0 654.0,578.1 656.5,579.0 659.0,579.3 661.5,581.1 664.0,580.5 666.5,578.4 669.0,580.3 671.5,580.4 674.0,578.5 676.5,579.6 679.0,577.7 681.5,585.1 684.0,585.4 686.5,579.3 689.0,579.1 691.5,580.2 694.0,579.3 696.5,580.3 699.0,580.6 701.5,579.1 704.0,579.7 706.5,582.4 709.0,580.2 711.5,579.2 714.0,580.2 716.5,578.7 719.0,581.4 721.5,580.6 724.0,581.4 726.5,581.3 729.0,580.7 731.5,581.4 734.0,580.6 736.5,579.6 739.0,579.3 741.5,579.9 744.0,577.7 746.5,582.5 749.0,578.6 751.5,580.4 754.0,579.1 756.5,578.3 759.0,580.5 761.5,580.3 764.0,580.5 766.5,581.3 769.0,580.0 771.5,581.1 774.0,581.3 776.5,580.4 779.0,580.5 781.5,581.4 784.0,580.9 786.5,581.0 789.0,578.3 791.5,581.0 794.0,581.4 796.5,580.8 799.0,581.4 801.5,583.1 804.0,581.1 806.5,581.8 809.0,580.2 811.5,580.2 814.0,580.6 816.5,580.0 819.0,581.2 821.5,580.2 824.0,581.0 826.5,579.7 829.0,579.5 831.5,580.6 834.0,580.2 836.5,580.6 839.0,580.7 841.5,581.0 844.0,582.6 846.5,583.0 849.0,582.3 851.5,581.1 854.0,583.2 856.5,579.9 859.0,579.4 861.5,581.9 864.0,581.6 866.5,581.5 869.0,581.7 871.5,579.9 874.0,580.5 876.5,583.1 879.0,582.9 881.5,581.0 884.0,584.0 886.5,580.7 889.0,581.3 891.5,582.2 894.0,580.6 896.5,581.4 899.0,581.8 901.5,581.6 904.0,583.0 906.5,582.7 909.0,580.9 911.5,581.4 914.0,582.3 916.5,582.1 919.0,581.3 921.5,582.7 924.0,583.1 926.5,581.6 929.0,585.5 931.5,586.4 934.0,580.6 936.5,582.9 939.0,581.5 941.5,581.3 944.0,582.2 946.5,581.7 949.0,582.8 951.5,580.9 954.0,582.1 956.5,586.0 959.0,582.7 961.5,580.5 964.0,583.3 966.5,583.3 969.0,584.2 971.5,582.9 974.0,582.0 976.5,584.3 979.0,583.6 981.5,580.8 984.0,583.7 986.5,582.6 989.0,584.1 991.5,582.5 994.0,583.8 996.5,583.2 999.0,583.6 1001.5,583.0 1004.0,582.6 1006.5,583.1 1009.0,583.7 1011.5,583.5 1014.0,584.8 1016.5,583.5 1019.0,583.8 1021.5,585.4 1024.0,583.1 1026.5,583.7 1029.0,582.4 1031.5,590.1 1034.0,598.9 1036.5,590.5 1039.0,584.7 1041.5,582.0 1044.0,581.6 1046.5,583.5 1049.0,581.6 1051.5,586.1 1054.0,584.5 1056.5,581.8 1059.0,583.0 1061.5,582.6 1064.0,583.7 1066.5,583.1 1069.0,584.2 1071.5,584.8 1074.0,583.0 1076.5,581.9 1079.0,583.9 1081.5,583.1 1084.0,584.5 1086.5,583.1 1089.0,584.2 1091.5,583.7 1094.0,583.1 1096.5,582.8 1099.0,584.1 1101.5,586.1 1104.0,584.2 1106.5,583.2 1109.0,584.1 1111.5,583.5 1114.0,581.9 1116.5,583.7 1119.0,585.1 1121.5,583.0 1124.0,582.1 1126.5,583.9 1129.0,585.4 1131.5,584.4 1134.0,584.5 1136.5,586.0 1139.0,585.2 1141.5,584.2 1144.0,583.2 1146.5,583.6 1149.0,583.3 1151.5,584.4 1154.0,582.5 1156.5,585.2 1159.0,583.7 1161.5,583.1 1164.0,584.4 1166.5,581.2 1169.0,582.6 1171.5,582.8 1174.0,584.4 1176.5,583.0 1179.0,585.1 1181.5,583.1 1184.0,584.1 1186.5,582.8 1189.0,584.9 1191.5,583.3 1194.0,584.2 1196.5,583.1 1199.0,582.4 1201.5,583.4 1204.0,584.8 1206.5,582.5 1209.0,582.0 1211.5,583.3 1214.0,584.5 1216.5,582.5 1219.0,583.1 1221.5,583.9 1224.0,583.3 1226.5,584.0 1229.0,585.0 1231.5,583.7 1234.0,583.7 1236.5,584.6 1239.0,583.7 1241.5,582.7 1244.0,582.6 1246.5,582.5 1249.0,585.9 1251.5,583.7 1254.0,584.4 1256.5,584.6 1259.0,582.8 1261.5,588.1 1264.0,592.8 1266.5,589.9 1269.0,586.0 1271.5,582.7 1274.0,583.5 1276.5,584.2 1279.0,586.4 1281.5,583.3 1284.0,583.7 1286.5,584.3 1289.0,584.1 1291.5,583.7 1294.0,582.7 1296.5,582.9 1299.0,583.7 1301.5,582.7 1304.0,583.2 1306.5,582.6 1309.0,585.2 1311.5,582.3 1314.0,586.1 1316.5,583.3 1319.0,582.8 1321.5,582.7" stroke="#9398ae" stroke-width="1.4" fill="none" stroke-linejoin="round" stroke-linecap="round" />
<line x1="357" y1="422.5" x2="357" y2="695.6" stroke="#e0504a" stroke-width="1.6" />
<polygon points="352.5,655.0 357.0,644.0 361.5,655.0" fill="#c01818" />
<line x1="370.6" y1="422.5" x2="370.6" y2="695.6" stroke="#e0504a" stroke-width="1.6" />
<polygon points="366.1,655.0 370.6,644.0 375.1,655.0" fill="#c01818" />
<line x1="576.5" y1="425" x2="576.5" y2="696" stroke="#4a62b8" stroke-width="1.6" />
<polygon points="572.0,655.0 576.5,644.0 581.0,655.0" fill="#1e3f8f" />
<line x1="587" y1="425" x2="587" y2="696" stroke="#4a62b8" stroke-width="1.6" />
<polygon points="582.5,655.0 587.0,644.0 591.5,655.0" fill="#1e3f8f" />
<line x1="677.4" y1="425" x2="677.4" y2="697" stroke="#f07ad0" stroke-width="1.6" />
<polygon points="672.9,655.0 677.4,644.0 681.9,655.0" fill="#f07ad0" />
<line x1="688.7" y1="425" x2="688.7" y2="697" stroke="#f07ad0" stroke-width="1.6" />
<polygon points="684.2,655.0 688.7,644.0 693.2,655.0" fill="#f07ad0" />
<line x1="926" y1="425" x2="926" y2="699" stroke="#444" stroke-width="1.6" />
<polygon points="921.5,655.0 926.0,644.0 930.5,655.0" fill="#111" />
<line x1="936.6" y1="425" x2="936.6" y2="699" stroke="#444" stroke-width="1.6" />
<polygon points="932.1,655.0 936.6,644.0 941.1,655.0" fill="#111" />
<line x1="1027" y1="426" x2="1027" y2="700" stroke="#d89060" stroke-width="1.6" />
<polygon points="1022.5,655.0 1027.0,644.0 1031.5,655.0" fill="#a86030" />
<line x1="1037.7" y1="426" x2="1037.7" y2="700" stroke="#d89060" stroke-width="1.6" />
<polygon points="1033.2,655.0 1037.7,644.0 1042.2,655.0" fill="#a86030" />
<line x1="1258.6" y1="425" x2="1258.6" y2="701" stroke="#5ccc8a" stroke-width="1.6" />
<polygon points="1254.1,655.0 1258.6,644.0 1263.1,655.0" fill="#3dbb6a" />
<line x1="1270" y1="425" x2="1270" y2="701" stroke="#5ccc8a" stroke-width="1.6" />
<polygon points="1265.5,655.0 1270.0,644.0 1274.5,655.0" fill="#3dbb6a" />
<text x="328.54" y="616.00" font-family="Liberation Sans" font-size="39.24" font-weight="normal" fill="#e0303a" textLength="23.09" lengthAdjust="spacingAndGlyphs" >1</text>
<text x="536.15" y="570.00" font-family="Liberation Sans" font-size="38.81" font-weight="normal" fill="#2b4ea0" textLength="28.20" lengthAdjust="spacingAndGlyphs" >2</text>
<text x="703.71" y="627.00" font-family="Liberation Sans" font-size="37.52" font-weight="normal" fill="#f070c8" textLength="26.16" lengthAdjust="spacingAndGlyphs" >3</text>
<text x="892.04" y="568.00" font-family="Liberation Sans" font-size="33.43" font-weight="normal" fill="#111111" textLength="23.18" lengthAdjust="spacingAndGlyphs" >4</text>
<text x="1043.23" y="629.00" font-family="Liberation Sans" font-size="40.70" font-weight="normal" fill="#cc7a3a" textLength="24.63" lengthAdjust="spacingAndGlyphs" >5</text>
<text x="1275.82" y="569.00" font-family="Liberation Sans" font-size="33.66" font-weight="normal" fill="#3dbb6a" textLength="23.86" lengthAdjust="spacingAndGlyphs" >6</text>
<line x1="155" y1="938" x2="1322" y2="944" stroke="#b8bcc4" stroke-width="1" />
<polyline points="155.0,931.8 157.5,930.2 160.0,929.8 162.5,927.4 165.0,929.6 167.5,929.6 170.0,930.0 172.5,929.4 175.0,930.3 177.5,929.8 180.0,928.8 182.5,931.8 185.0,931.9 187.5,933.1 190.0,931.0 192.5,930.5 195.0,930.4 197.5,929.2 200.0,932.6 202.5,930.0 205.0,930.0 207.5,931.4 210.0,933.7 212.5,932.2 215.0,930.6 217.5,931.1 220.0,933.0 222.5,932.1 225.0,931.4 227.5,932.2 230.0,933.6 232.5,935.3 235.0,931.2 237.5,932.1 240.0,932.0 242.5,928.9 245.0,930.0 247.5,928.9 250.0,930.8 252.5,928.2 255.0,925.4 257.5,927.4 260.0,925.2 262.5,922.4 265.0,923.0 267.5,922.1 270.0,920.8 272.5,921.5 275.0,918.7 277.5,921.4 280.0,923.2 282.5,923.2 285.0,923.7 287.5,923.9 290.0,924.5 292.5,921.3 295.0,924.4 297.5,922.1 300.0,924.9 302.5,924.5 305.0,929.5 307.5,931.1 310.0,930.4 312.5,934.2 315.0,932.2 317.5,934.5 320.0,935.7 322.5,934.2 325.0,935.6 327.5,936.9 330.0,932.4 332.5,934.3 335.0,932.3 337.5,934.2 340.0,931.9 342.5,931.6 345.0,931.6 347.5,931.9 350.0,930.4 352.5,934.8 355.0,931.9 357.5,934.8 360.0,936.4 362.5,936.8 365.0,940.3 367.5,944.0 370.0,944.7 372.5,944.7 375.0,942.9 377.5,946.2 380.0,947.5 382.5,948.3 385.0,948.5 387.5,951.0 390.0,950.6 392.5,952.0 395.0,953.8 397.5,952.6 400.0,954.1 402.5,958.0 405.0,957.1 407.5,953.8 410.0,952.7 412.5,950.8 415.0,949.0 417.5,948.0 420.0,948.5 422.5,949.7 425.0,952.9 427.5,953.9 430.0,953.8 432.5,954.6 435.0,954.8 437.5,956.7 440.0,955.2 442.5,957.2 445.0,958.1 447.5,958.0 450.0,956.7 452.5,960.0 455.0,957.8 457.5,959.6 460.0,958.5 462.5,957.6 465.0,960.6 467.5,961.1 470.0,961.0 472.5,961.9 475.0,961.1 477.5,961.4 480.0,962.6 482.5,965.7 485.0,963.6 487.5,961.0 490.0,961.5 492.5,959.3 495.0,958.4 497.5,959.2 500.0,956.5 502.5,954.2 505.0,954.3 507.5,954.7 510.0,953.8 512.5,954.4 515.0,950.9 517.5,951.9 520.0,950.6 522.5,949.0 525.0,949.4 527.5,948.0 530.0,945.4 532.5,947.0 535.0,943.1 537.5,944.1 540.0,944.2 542.5,944.9 545.0,943.6 547.5,944.7 550.0,944.7 552.5,946.3 555.0,944.2 557.5,945.5 560.0,945.2 562.5,944.0 565.0,949.3 567.5,945.9 570.0,944.3 572.5,948.2 575.0,945.1 577.5,947.2 580.0,946.3 582.5,942.7 585.0,941.4 587.5,939.7 590.0,938.6 592.5,935.1 595.0,934.0 597.5,934.8 600.0,936.4 602.5,935.8 605.0,937.2 607.5,935.9 610.0,934.3 612.5,934.8 615.0,932.4 617.5,933.8 620.0,933.7 622.5,935.4 625.0,935.8 627.5,934.3 630.0,934.2 632.5,933.0 635.0,934.8 637.5,935.6 640.0,936.7 642.5,935.9 645.0,940.3 647.5,940.0 650.0,939.1 652.5,939.4 655.0,940.4 657.5,941.8 660.0,942.4 662.5,943.8 665.0,945.0 667.5,946.5 670.0,947.0 672.5,946.2 675.0,947.6 677.5,947.4 680.0,947.9 682.5,952.0 685.0,949.7 687.5,953.6 690.0,951.4 692.5,951.8 695.0,952.2 697.5,950.1 700.0,949.9 702.5,948.3 705.0,947.3 707.5,947.0 710.0,945.7 712.5,948.0 715.0,945.0 717.5,946.7 720.0,940.3 722.5,944.0 725.0,945.5 727.5,945.2 730.0,947.9 732.5,948.1 735.0,947.7 737.5,949.5 740.0,953.4 742.5,950.9 745.0,951.7 747.5,951.7 750.0,953.6 752.5,953.0 755.0,955.7 757.5,960.4 760.0,959.8 762.5,960.5 765.0,962.3 767.5,964.5 770.0,964.1 772.5,967.4 775.0,967.6 777.5,967.9 780.0,971.5 782.5,967.7 785.0,971.5 787.5,974.1 790.0,974.1 792.5,976.6 795.0,977.1 797.5,976.6 800.0,980.5 802.5,977.3 805.0,976.0 807.5,977.3 810.0,974.8 812.5,975.8 815.0,974.6 817.5,975.8 820.0,971.4 822.5,973.8 825.0,972.5 827.5,970.3 830.0,972.8 832.5,969.7 835.0,971.9 837.5,969.4 840.0,968.6 842.5,966.7 845.0,966.8 847.5,962.1 850.0,963.6 852.5,961.7 855.0,961.8 857.5,960.3 860.0,960.2 862.5,957.2 865.0,959.7 867.5,959.3 870.0,954.9 872.5,954.1 875.0,953.5 877.5,953.7 880.0,953.5 882.5,948.4 885.0,948.2 887.5,946.5 890.0,945.9 892.5,945.2 895.0,947.8 897.5,945.8 900.0,949.3 902.5,948.8 905.0,946.9 907.5,947.4 910.0,948.5 912.5,951.7 915.0,949.3 917.5,949.1 920.0,951.5 922.5,952.3 925.0,950.3 927.5,952.5 930.0,949.9 932.5,949.5 935.0,947.0 937.5,947.4 940.0,946.5 942.5,943.0 945.0,945.6 947.5,942.4 950.0,944.3 952.5,942.0 955.0,946.1 957.5,943.5 960.0,943.8 962.5,943.4 965.0,940.1 967.5,938.5 970.0,940.6 972.5,941.8 975.0,940.3 977.5,940.8 980.0,940.6 982.5,937.0 985.0,939.4 987.5,942.1 990.0,939.2 992.5,937.8 995.0,940.6 997.5,940.7 1000.0,942.3 1002.5,941.0 1005.0,942.8 1007.5,940.2 1010.0,944.7 1012.5,946.1 1015.0,946.1 1017.5,942.9 1020.0,945.8 1022.5,941.9 1025.0,946.6 1027.5,946.6 1030.0,945.9 1032.5,949.1 1035.0,950.9 1037.5,954.0 1040.0,955.0 1042.5,957.2 1045.0,956.5 1047.5,957.0 1050.0,957.3 1052.5,957.8 1055.0,956.9 1057.5,958.3 1060.0,954.7 1062.5,955.0 1065.0,955.1 1067.5,953.9 1070.0,954.3 1072.5,952.4 1075.0,954.5 1077.5,951.7 1080.0,953.5 1082.5,952.0 1085.0,953.9 1087.5,950.2 1090.0,952.7 1092.5,951.4 1095.0,952.3 1097.5,953.6 1100.0,950.5 1102.5,950.5 1105.0,951.6 1107.5,953.9 1110.0,951.8 1112.5,955.0 1115.0,953.9 1117.5,954.7 1120.0,956.4 1122.5,958.1 1125.0,957.4 1127.5,958.3 1130.0,959.5 1132.5,959.9 1135.0,957.4 1137.5,961.0 1140.0,962.4 1142.5,964.4 1145.0,966.3 1147.5,965.1 1150.0,965.0 1152.5,964.4 1155.0,966.4 1157.5,968.0 1160.0,969.3 1162.5,967.1 1165.0,969.3 1167.5,970.7 1170.0,972.7 1172.5,971.3 1175.0,969.3 1177.5,968.1 1180.0,967.6 1182.5,966.2 1185.0,967.1 1187.5,966.4 1190.0,964.9 1192.5,964.5 1195.0,961.4 1197.5,961.5 1200.0,959.5 1202.5,959.0 1205.0,959.6 1207.5,956.9 1210.0,953.5 1212.5,954.6 1215.0,953.0 1217.5,951.0 1220.0,951.0 1222.5,954.0 1225.0,955.6 1227.5,953.4 1230.0,956.0 1232.5,956.9 1235.0,954.0 1237.5,954.8 1240.0,954.1 1242.5,953.6 1245.0,950.6 1247.5,951.6 1250.0,952.7 1252.5,952.2 1255.0,952.3 1257.5,948.8 1260.0,950.9 1262.5,948.7 1265.0,945.3 1267.5,947.4 1270.0,945.2 1272.5,945.6 1275.0,944.1 1277.5,945.1 1280.0,943.2 1282.5,942.3 1285.0,944.2 1287.5,943.6 1290.0,943.0 1292.5,945.5 1295.0,943.6 1297.5,943.6 1300.0,944.0 1302.5,943.1 1305.0,944.6 1307.5,948.0 1310.0,944.7 1312.5,946.2 1315.0,945.0 1317.5,946.0 1320.0,949.0" stroke="#9398ae" stroke-width="1.4" fill="none" stroke-linejoin="round" stroke-linecap="round" />
<circle cx="782.7" cy="943.5" r="3.5" fill="#9096b0"/>
<line x1="358.6" y1="815.5" x2="358.6" y2="1053" stroke="#d83a3a" stroke-width="1.6" />
<polygon points="354.1,1020.0 358.6,1010.0 363.1,1020.0" fill="#b01818" />
<line x1="415" y1="815.5" x2="415" y2="1054" stroke="#d83a3a" stroke-width="1.6" />
<polygon points="410.5,1020.7 415.0,1010.7 419.5,1020.7" fill="#b01818" />
<line x1="540.8" y1="817.7" x2="540.8" y2="1056" stroke="#4a62c0" stroke-width="1.6" />
<polygon points="536.3,1022.4 540.8,1012.4 545.3,1022.4" fill="#1e3f8f" />
<line x1="596.3" y1="817.7" x2="596.3" y2="1056" stroke="#5068a0" stroke-width="1.6" />
<polygon points="591.8,1023.1 596.3,1013.1 600.8,1023.1" fill="#1e3f8f" />
<line x1="685.8" y1="822" x2="685.8" y2="1057" stroke="#f0509a" stroke-width="1.6" />
<polygon points="681.3,1024.3 685.8,1014.3 690.3,1024.3" fill="#f0509a" />
<line x1="720.7" y1="822" x2="720.7" y2="1057" stroke="#f0509a" stroke-width="1.6" />
<polygon points="716.2,1024.7 720.7,1014.7 725.2,1024.7" fill="#f0509a" />
<line x1="902" y1="824" x2="902" y2="1058" stroke="#333" stroke-width="1.6" />
<polygon points="897.5,1027.1 902.0,1017.1 906.5,1027.1" fill="#111" />
<line x1="945.3" y1="824" x2="945.3" y2="1058" stroke="#333" stroke-width="1.6" />
<polygon points="940.8,1027.7 945.3,1017.7 949.8,1027.7" fill="#111" />
<line x1="1035.8" y1="824" x2="1035.8" y2="1060" stroke="#d08040" stroke-width="1.6" />
<polygon points="1031.3,1028.9 1035.8,1018.9 1040.3,1028.9" fill="#a86030" />
<line x1="1082" y1="824" x2="1082" y2="1060" stroke="#c88850" stroke-width="1.6" />
<polygon points="1077.5,1029.5 1082.0,1019.5 1086.5,1029.5" fill="#a86030" />
<line x1="1228.3" y1="824" x2="1228.3" y2="1062" stroke="#30c070" stroke-width="1.6" />
<polygon points="1223.8,1031.4 1228.3,1021.4 1232.8,1031.4" fill="#30b060" />
<line x1="1277.6" y1="828" x2="1277.6" y2="1062" stroke="#30c070" stroke-width="1.6" />
<polygon points="1273.1,1032.0 1277.6,1022.0 1282.1,1032.0" fill="#30b060" />
<text x="629.76" y="788.00" font-family="Liberation Sans" font-size="39.24" font-weight="normal" fill="#2ec3cf" textLength="26.32" lengthAdjust="spacingAndGlyphs" >B</text>
<text x="971.25" y="794.50" font-family="Liberation Sans" font-size="40.70" font-weight="normal" fill="#2ec3cf" textLength="31.21" lengthAdjust="spacingAndGlyphs" >D</text>
<text x="320.82" y="979.70" font-family="Liberation Sans" font-size="33.58" font-weight="normal" fill="#e0303a" textLength="23.22" lengthAdjust="spacingAndGlyphs" >1</text>
<text x="508.57" y="935.40" font-family="Liberation Sans" font-size="37.81" font-weight="normal" fill="#2b4ea0" textLength="22.46" lengthAdjust="spacingAndGlyphs" >2</text>
<text x="645.15" y="988.00" font-family="Liberation Sans" font-size="36.23" font-weight="normal" fill="#f070c8" textLength="22.64" lengthAdjust="spacingAndGlyphs" >3</text>
<text x="865.64" y="940.80" font-family="Liberation Sans" font-size="29.22" font-weight="normal" fill="#111111" textLength="20.86" lengthAdjust="spacingAndGlyphs" >4</text>
<text x="1005.44" y="995.00" font-family="Liberation Sans" font-size="36.34" font-weight="normal" fill="#cc7a3a" textLength="21.70" lengthAdjust="spacingAndGlyphs" >5</text>
<text x="1282.91" y="927.00" font-family="Liberation Sans" font-size="33.51" font-weight="normal" fill="#3dbb6a" textLength="22.90" lengthAdjust="spacingAndGlyphs" >6</text>
<line x1="151" y1="1303" x2="1322" y2="1307" stroke="#c4c8d0" stroke-width="1" />
<line x1="316.6" y1="1297.2" x2="1322" y2="1300.5" stroke="#f08a86" stroke-width="2.2" />
<polyline points="152.0,1297.7 154.5,1297.9 157.0,1295.9 159.5,1297.6 162.0,1296.0 164.5,1294.4 167.0,1295.2 169.5,1296.4 172.0,1295.9 174.5,1293.8 177.0,1295.7 179.5,1294.6 182.0,1294.9 184.5,1294.5 187.0,1292.5 189.5,1294.0 192.0,1292.6 194.5,1294.9 197.0,1294.3 199.5,1294.1 202.0,1293.4 204.5,1295.2 207.0,1295.9 209.5,1294.8 212.0,1299.4 214.5,1297.8 217.0,1299.9 219.5,1297.1 222.0,1301.0 224.5,1297.9 227.0,1299.3 229.5,1301.3 232.0,1301.3 234.5,1298.9 237.0,1301.0 239.5,1303.9 242.0,1306.2 244.5,1305.6 247.0,1305.0 249.5,1307.1 252.0,1305.6 254.5,1307.8 257.0,1304.9 259.5,1305.8 262.0,1304.9 264.5,1305.3 267.0,1303.3 269.5,1304.4 272.0,1302.0 274.5,1302.5 277.0,1301.7 279.5,1297.9 282.0,1299.4 284.5,1298.7 287.0,1297.1 289.5,1297.6 292.0,1295.0 294.5,1296.8 297.0,1296.1 299.5,1295.3 302.0,1297.3 304.5,1294.1 307.0,1293.1 309.5,1291.5 312.0,1292.2 314.5,1292.3 317.0,1296.6 319.5,1294.7 322.0,1292.6 324.5,1291.7 327.0,1287.6 329.5,1283.5 332.0,1281.7 334.5,1277.0 337.0,1274.9 339.5,1271.5 342.0,1270.3 344.5,1271.8 347.0,1272.4 349.5,1270.7 352.0,1269.8 354.5,1270.3 357.0,1268.0 359.5,1270.1 362.0,1269.4 364.5,1273.1 367.0,1271.0 369.5,1272.6 372.0,1278.2 374.5,1279.7 377.0,1281.2 379.5,1282.1 382.0,1282.9 384.5,1282.9 387.0,1285.2 389.5,1285.5 392.0,1285.0 394.5,1286.1 397.0,1286.0 399.5,1288.2 402.0,1289.5 404.5,1290.1 407.0,1290.8 409.5,1290.7 412.0,1293.5 414.5,1292.1 417.0,1293.1 419.5,1293.4 422.0,1295.1 424.5,1296.0 427.0,1299.9 429.5,1299.2 432.0,1298.0 434.5,1300.7 437.0,1300.8 439.5,1304.8 442.0,1306.6 444.5,1306.2 447.0,1309.5 449.5,1310.5 452.0,1313.3 454.5,1316.9 457.0,1316.4 459.5,1317.4 462.0,1321.7 464.5,1323.5 467.0,1325.7 469.5,1328.2 472.0,1323.9 474.5,1319.9 477.0,1321.1 479.5,1316.9 482.0,1313.5 484.5,1311.2 487.0,1311.5 489.5,1307.9 492.0,1305.7 494.5,1305.7 497.0,1303.2 499.5,1302.1 502.0,1301.8 504.5,1300.8 507.0,1301.2 509.5,1299.8 512.0,1300.3 514.5,1299.1 517.0,1298.9 519.5,1299.1 522.0,1298.9 524.5,1298.0 527.0,1295.1 529.5,1294.2 532.0,1292.2 534.5,1292.9 537.0,1292.5 539.5,1288.8 542.0,1289.4 544.5,1287.0 547.0,1286.1 549.5,1285.4 552.0,1283.6 554.5,1284.1 557.0,1279.8 559.5,1279.3 562.0,1278.6 564.5,1276.0 567.0,1276.2 569.5,1272.5 572.0,1272.9 574.5,1269.6 577.0,1269.7 579.5,1269.0 582.0,1269.6 584.5,1266.8 587.0,1266.0 589.5,1262.7 592.0,1263.6 594.5,1259.4 597.0,1259.4 599.5,1259.3 602.0,1262.3 604.5,1264.5 607.0,1263.7 609.5,1265.2 612.0,1266.3 614.5,1267.6 617.0,1268.5 619.5,1268.8 622.0,1273.3 624.5,1270.4 627.0,1272.9 629.5,1275.6 632.0,1277.6 634.5,1277.3 637.0,1278.4 639.5,1280.0 642.0,1279.4 644.5,1279.3 647.0,1276.3 649.5,1274.2 652.0,1273.4 654.5,1272.7 657.0,1272.6 659.5,1271.7 662.0,1267.8 664.5,1265.1 667.0,1263.8 669.5,1266.6 672.0,1262.1 674.5,1261.7 677.0,1262.5 679.5,1260.9 682.0,1262.9 684.5,1263.9 687.0,1264.8 689.5,1268.5 692.0,1270.3 694.5,1268.2 697.0,1273.1 699.5,1273.1 702.0,1275.1 704.5,1276.4 707.0,1275.6 709.5,1277.8 712.0,1277.9 714.5,1282.4 717.0,1283.7 719.5,1282.2 722.0,1281.6 724.5,1285.4 727.0,1284.8 729.5,1288.1 732.0,1289.3 734.5,1289.9 737.0,1288.4 739.5,1288.7 742.0,1290.1 744.5,1291.7 747.0,1291.7 749.5,1295.2 752.0,1295.5 754.5,1295.5 757.0,1295.9 759.5,1298.0 762.0,1299.7 764.5,1296.6 767.0,1300.0 769.5,1300.2 772.0,1300.6 774.5,1301.9 777.0,1303.3 779.5,1306.2 782.0,1305.8 784.5,1307.7 787.0,1309.2 789.5,1314.1 792.0,1314.8 794.5,1318.1 797.0,1321.6 799.5,1323.3 802.0,1325.2 804.5,1328.0 807.0,1331.8 809.5,1333.2 812.0,1333.4 814.5,1331.1 817.0,1327.7 819.5,1326.0 822.0,1322.7 824.5,1321.9 827.0,1318.6 829.5,1313.5 832.0,1312.8 834.5,1311.8 837.0,1307.8 839.5,1305.0 842.0,1305.8 844.5,1302.7 847.0,1303.6 849.5,1303.6 852.0,1303.4 854.5,1300.6 857.0,1299.8 859.5,1302.5 862.0,1299.3 864.5,1299.5 867.0,1302.0 869.5,1298.0 872.0,1295.4 874.5,1300.8 877.0,1298.1 879.5,1296.8 882.0,1299.2 884.5,1295.2 887.0,1296.5 889.5,1294.2 892.0,1293.3 894.5,1293.9 897.0,1293.3 899.5,1292.8 902.0,1291.8 904.5,1288.8 907.0,1288.4 909.5,1289.9 912.0,1287.3 914.5,1285.8 917.0,1286.3 919.5,1285.4 922.0,1284.4 924.5,1281.2 927.0,1280.5 929.5,1280.9 932.0,1280.5 934.5,1276.7 937.0,1276.6 939.5,1275.9 942.0,1276.5 944.5,1273.0 947.0,1276.6 949.5,1274.1 952.0,1276.4 954.5,1279.9 957.0,1279.7 959.5,1281.4 962.0,1282.0 964.5,1284.4 967.0,1284.2 969.5,1287.0 972.0,1288.6 974.5,1286.2 977.0,1287.4 979.5,1285.6 982.0,1281.6 984.5,1283.6 987.0,1280.4 989.5,1281.0 992.0,1278.2 994.5,1277.6 997.0,1277.3 999.5,1278.0 1002.0,1272.7 1004.5,1272.9 1007.0,1271.7 1009.5,1272.3 1012.0,1269.5 1014.5,1269.1 1017.0,1269.1 1019.5,1267.2 1022.0,1264.6 1024.5,1265.3 1027.0,1266.8 1029.5,1268.7 1032.0,1268.8 1034.5,1271.1 1037.0,1273.2 1039.5,1273.3 1042.0,1274.7 1044.5,1277.0 1047.0,1278.9 1049.5,1277.7 1052.0,1279.5 1054.5,1283.6 1057.0,1283.4 1059.5,1283.4 1062.0,1286.1 1064.5,1288.9 1067.0,1287.4 1069.5,1288.2 1072.0,1290.1 1074.5,1293.5 1077.0,1291.9 1079.5,1294.5 1082.0,1296.2 1084.5,1296.9 1087.0,1296.8 1089.5,1299.2 1092.0,1299.7 1094.5,1301.6 1097.0,1302.2 1099.5,1302.7 1102.0,1301.0 1104.5,1304.5 1107.0,1304.2 1109.5,1302.5 1112.0,1305.5 1114.5,1306.5 1117.0,1306.7 1119.5,1304.5 1122.0,1307.2 1124.5,1307.5 1127.0,1308.9 1129.5,1307.1 1132.0,1311.7 1134.5,1313.7 1137.0,1315.4 1139.5,1316.3 1142.0,1318.0 1144.5,1321.0 1147.0,1322.0 1149.5,1322.7 1152.0,1325.2 1154.5,1327.4 1157.0,1329.7 1159.5,1330.5 1162.0,1330.7 1164.5,1331.6 1167.0,1330.3 1169.5,1328.2 1172.0,1326.9 1174.5,1321.3 1177.0,1320.5 1179.5,1317.8 1182.0,1318.3 1184.5,1315.7 1187.0,1313.0 1189.5,1311.4 1192.0,1308.6 1194.5,1309.0 1197.0,1307.6 1199.5,1306.7 1202.0,1305.5 1204.5,1305.9 1207.0,1305.2 1209.5,1301.3 1212.0,1301.5 1214.5,1301.3 1217.0,1300.8 1219.5,1296.7 1222.0,1296.0 1224.5,1295.2 1227.0,1296.1 1229.5,1291.5 1232.0,1290.5 1234.5,1289.4 1237.0,1287.8 1239.5,1286.6 1242.0,1284.9 1244.5,1283.1 1247.0,1282.2 1249.5,1280.6 1252.0,1279.6 1254.5,1278.5 1257.0,1275.5 1259.5,1275.9 1262.0,1274.8 1264.5,1274.4 1267.0,1273.2 1269.5,1273.1 1272.0,1269.2 1274.5,1268.8 1277.0,1268.1 1279.5,1266.0 1282.0,1265.3 1284.5,1264.1 1287.0,1262.8 1289.5,1266.8 1292.0,1265.6 1294.5,1269.1 1297.0,1267.9 1299.5,1270.9 1302.0,1271.4 1304.5,1274.2 1307.0,1277.4 1309.5,1279.3 1312.0,1279.6 1314.5,1280.7 1317.0,1281.8 1319.5,1283.9 1322.0,1286.7" stroke="#9398ae" stroke-width="1.4" fill="none" stroke-linejoin="round" stroke-linecap="round" />
<line x1="364.6" y1="1232" x2="364.6" y2="1199" stroke="#8cc0e0" stroke-width="1.8"/>
<polygon points="359.6,1200.0 364.6,1188.0 369.6,1200.0" fill="#5fa0d0" />
<line x1="604.4" y1="1232" x2="604.4" y2="1199" stroke="#8cc0e0" stroke-width="1.8"/>
<polygon points="599.4,1200.0 604.4,1188.0 609.4,1200.0" fill="#5fa0d0" />
<line x1="680.6" y1="1232" x2="680.6" y2="1199" stroke="#8cc0e0" stroke-width="1.8"/>
<polygon points="675.6,1200.0 680.6,1188.0 685.6,1200.0" fill="#5fa0d0" />
<line x1="944.6" y1="1232" x2="944.6" y2="1199" stroke="#8cc0e0" stroke-width="1.8"/>
<polygon points="939.6,1200.0 944.6,1188.0 949.6,1200.0" fill="#5fa0d0" />
<line x1="1024.4" y1="1232" x2="1024.4" y2="1199" stroke="#8cc0e0" stroke-width="1.8"/>
<polygon points="1019.4,1200.0 1024.4,1188.0 1029.4,1200.0" fill="#5fa0d0" />
<line x1="1290.5" y1="1232" x2="1290.5" y2="1199" stroke="#8cc0e0" stroke-width="1.8"/>
<polygon points="1285.5,1200.0 1290.5,1188.0 1295.5,1200.0" fill="#5fa0d0" />
<line x1="469.4" y1="1331" x2="469.4" y2="1369" stroke="#8a5aa8" stroke-width="1.8"/>
<polygon points="463.9,1368.0 469.4,1381.0 474.9,1368.0" fill="#6a3f9c" />
<line x1="811.5" y1="1331" x2="811.5" y2="1369" stroke="#8a5aa8" stroke-width="1.8"/>
<polygon points="806.0,1368.0 811.5,1381.0 817.0,1368.0" fill="#6a3f9c" />
<line x1="1165.5" y1="1331" x2="1165.5" y2="1369" stroke="#8a5aa8" stroke-width="1.8"/>
<polygon points="1160.0,1368.0 1165.5,1381.0 1171.0,1368.0" fill="#6a3f9c" />
<text x="455.93" y="1422.60" font-family="Liberation Sans" font-size="43.61" font-weight="normal" fill="#6a3f9c" textLength="24.74" lengthAdjust="spacingAndGlyphs" >A</text>
<text x="797.70" y="1422.60" font-family="Liberation Sans" font-size="42.97" font-weight="normal" fill="#6a3f9c" textLength="25.66" lengthAdjust="spacingAndGlyphs" >C</text>
<text x="1152.73" y="1421.00" font-family="Liberation Sans" font-size="40.70" font-weight="normal" fill="#6a3f9c" textLength="20.92" lengthAdjust="spacingAndGlyphs" >E</text>
<rect x="71" y="733" width="1251" height="4" fill="#f7f8fa" />
</g>
<defs><linearGradient id="gB1" x1="0" y1="0" x2="1" y2="0"><stop offset="0" stop-color="#d6d7e2"/><stop offset="0.5" stop-color="#d8dae4"/><stop offset="1" stop-color="#dcdfe6"/></linearGradient><linearGradient id="gB2" x1="0" y1="0" x2="1" y2="0"><stop offset="0" stop-color="#d6d8d8"/><stop offset="0.3" stop-color="#d6d7d4"/><stop offset="0.55" stop-color="#d8d7da"/><stop offset="0.7" stop-color="#dad6e6"/><stop offset="0.85" stop-color="#d6dcd4"/><stop offset="1" stop-color="#dcd4e4"/></linearGradient><radialGradient id="rgP" cx="0.5" cy="0.5" r="0.5"><stop offset="0" stop-color="#ecc8dc" stop-opacity="0.55"/><stop offset="1" stop-color="#ecc8dc" stop-opacity="0"/></radialGradient><radialGradient id="rgG" cx="0.5" cy="0.5" r="0.5"><stop offset="0" stop-color="#c4e4c0" stop-opacity="0.6"/><stop offset="1" stop-color="#c4e4c0" stop-opacity="0"/></radialGradient><radialGradient id="rgL" cx="0.5" cy="0.5" r="0.5"><stop offset="0" stop-color="#ecd4f4" stop-opacity="0.8"/><stop offset="1" stop-color="#ecd4f4" stop-opacity="0"/></radialGradient><linearGradient id="gB3" x1="0" y1="0" x2="1" y2="0"><stop offset="0" stop-color="#e8e8ed"/><stop offset="0.5" stop-color="#ebebf0"/><stop offset="1" stop-color="#eeeef3"/></linearGradient><linearGradient id="gB4" x1="0" y1="0" x2="1" y2="0"><stop offset="0" stop-color="#d4d5d6"/><stop offset="0.45" stop-color="#d2d4d2"/><stop offset="1" stop-color="#d2d8ce"/></linearGradient><linearGradient id="mB4g" x1="0" y1="0" x2="1" y2="0"><stop offset="0" stop-color="#fff" stop-opacity="0"/><stop offset="0.45" stop-color="#fff" stop-opacity="0.2"/><stop offset="1" stop-color="#fff" stop-opacity="1"/></linearGradient><mask id="mB4"><rect x="145" y="1777" width="1176" height="107" fill="url(#mB4g)"/></mask><linearGradient id="gB5" x1="0" y1="0" x2="1" y2="0"><stop offset="0" stop-color="#dddee1"/><stop offset="0.6" stop-color="#dcdde0"/><stop offset="0.85" stop-color="#dee0e0"/><stop offset="1" stop-color="#e0e2df"/></linearGradient><linearGradient id="darkL" gradientUnits="userSpaceOnUse" x1="145" y1="0" x2="1321" y2="0"><stop offset="0" stop-color="#202028" stop-opacity="0.19"/><stop offset="0.22" stop-color="#202028" stop-opacity="0.125"/><stop offset="0.57" stop-color="#202028" stop-opacity="0.045"/><stop offset="0.9" stop-color="#202028" stop-opacity="0"/></linearGradient><linearGradient id="darkL2" gradientUnits="userSpaceOnUse" x1="145" y1="0" x2="700" y2="0"><stop offset="0" stop-color="#202028" stop-opacity="0.08"/><stop offset="1" stop-color="#202028" stop-opacity="0"/></linearGradient><pattern id="diagB" width="44" height="44" patternUnits="userSpaceOnUse" patternTransform="rotate(-45)"><rect width="44" height="44" fill="#e0d8ea" fill-opacity="0.25"/><rect width="20" height="44" fill="#c8dcc0" fill-opacity="0.45"/></pattern><pattern id="vstr" width="9" height="20" patternUnits="userSpaceOnUse"><rect width="3" height="20" fill="#ffffff" fill-opacity="0.06"/></pattern><pattern id="vstr2" width="22" height="20" patternUnits="userSpaceOnUse"><rect width="8" height="20" fill="#ffffff" fill-opacity="0.12"/></pattern><clipPath id="clipB"><rect x="74" y="1519" width="1253" height="823"/></clipPath></defs>
<g clip-path="url(#clipB)">
<rect x="74" y="1519" width="1253" height="823" fill="#ffffff" />
<rect x="145" y="1519" width="1176" height="86" fill="url(#gB1)" />
<rect x="145" y="1519" width="1176" height="86" fill="url(#vstr)" />
<rect x="145" y="1605" width="1176" height="83" fill="url(#gB2)" />
<ellipse cx="560" cy="1665" rx="90" ry="40" fill="url(#rgP)"/>
<ellipse cx="470" cy="1650" rx="70" ry="40" fill="url(#rgG)"/>
<ellipse cx="850" cy="1630" rx="200" ry="60" fill="url(#rgP)"/>
<ellipse cx="1060" cy="1660" rx="110" ry="50" fill="url(#rgG)"/>
<ellipse cx="1270" cy="1635" rx="90" ry="55" fill="url(#rgL)"/>
<ellipse cx="1210" cy="1665" rx="70" ry="40" fill="url(#rgG)"/>
<rect x="145" y="1688" width="1176" height="89" fill="url(#gB3)" />
<rect x="145" y="1688" width="1176" height="12" fill="#f4f4f6" opacity="0.5"/>
<rect x="145" y="1777" width="1176" height="107" fill="url(#gB4)" />
<rect x="145" y="1777" width="1176" height="107" fill="url(#diagB)" mask="url(#mB4)"/>
<rect x="145" y="1884" width="1176" height="365" fill="url(#gB5)" />
<rect x="1150" y="1884" width="171" height="365" fill="url(#vstr2)" />
<rect x="145" y="1519" width="1176" height="730" fill="url(#darkL)" />
<rect x="145" y="2249" width="1176" height="27" fill="#cfd0d3" />
<rect x="145" y="2249" width="555" height="27" fill="url(#darkL2)" />
<line x1="145" y1="2130" x2="1321" y2="2130" stroke="#c6c9cf" stroke-width="1" />
<line x1="145" y1="2200" x2="1321" y2="2200" stroke="#c6c9cf" stroke-width="1" />
<line x1="145" y1="1578.5" x2="1321" y2="1583" stroke="#8d929c" stroke-width="1.1" />
<line x1="145" y1="1643.8" x2="1321" y2="1646" stroke="#8d929c" stroke-width="1.1" />
<line x1="145" y1="1724" x2="1321" y2="1726" stroke="#8d929c" stroke-width="1.1" />
<line x1="145" y1="1823" x2="1321" y2="1826" stroke="#8d929c" stroke-width="1.1" />
<line x1="145" y1="1920.4" x2="1321" y2="1914.8" stroke="#8d929c" stroke-width="1.1" />
<line x1="145" y1="2030" x2="1321" y2="2031" stroke="#8d929c" stroke-width="1.1" />
<line x1="608" y1="1521" x2="608" y2="2249" stroke="#e0606a" stroke-width="1.6" />
<line x1="1151.2" y1="1523" x2="1151.2" y2="2249" stroke="#5a6ad0" stroke-width="1.6" />
<polyline points="145.0,1583.2 149.0,1578.2 153.0,1578.1 157.0,1572.7 161.0,1580.3 165.0,1579.9 169.0,1579.8 173.0,1582.5 177.0,1583.2 181.0,1579.7 185.0,1580.6 189.0,1582.0 193.0,1585.5 197.0,1585.5 201.0,1580.8 205.0,1581.6 209.0,1586.9 213.0,1589.5 217.0,1585.5 221.0,1584.0 225.0,1589.2 229.0,1585.7 233.0,1588.0 237.0,1589.6 241.0,1586.4 245.0,1584.2 249.0,1575.0 253.0,1567.9 257.0,1569.2 261.0,1568.3 265.0,1569.4 269.0,1568.8 273.0,1569.7 277.0,1569.4 281.0,1570.8 285.0,1570.8 289.0,1571.6 293.0,1574.7 297.0,1566.9 301.0,1574.7 305.0,1570.7 309.0,1568.1 313.0,1571.1 317.0,1571.9 321.0,1574.6 325.0,1568.3 329.0,1571.3 333.0,1570.6 337.0,1565.2 341.0,1566.1 345.0,1570.5 349.0,1570.3 353.0,1570.8 357.0,1568.9 361.0,1568.0 365.0,1566.8 369.0,1569.3 373.0,1563.3 377.0,1564.7 381.0,1565.6 385.0,1559.9 389.0,1567.2 393.0,1561.0 397.0,1562.5 401.0,1568.1 405.0,1559.5 409.0,1560.2 413.0,1566.7 417.0,1560.5 421.0,1563.1 425.0,1566.6 429.0,1567.3 433.0,1568.5 437.0,1568.8 441.0,1572.3 445.0,1572.3 449.0,1572.1 453.0,1569.5 457.0,1570.5 461.0,1568.4 465.0,1576.6 469.0,1570.9 473.0,1579.4 477.0,1583.2 481.0,1576.5 485.0,1578.7 489.0,1580.4 493.0,1585.1 497.0,1581.7 501.0,1584.8 505.0,1584.9 509.0,1586.8 513.0,1589.7 517.0,1582.3 521.0,1583.9 525.0,1583.1 529.0,1583.4 533.0,1576.4 537.0,1581.6 541.0,1578.5 545.0,1578.4 549.0,1584.2 553.0,1585.4 557.0,1587.2 561.0,1590.4 565.0,1587.4 569.0,1586.4 573.0,1590.6 577.0,1590.8 581.0,1584.0 585.0,1588.5 589.0,1577.1 593.0,1576.1 597.0,1583.2 601.0,1579.3 605.0,1582.3 609.0,1587.7 613.0,1591.5 617.0,1599.1 621.0,1599.5 625.0,1589.2 629.0,1588.2 633.0,1582.3 637.0,1581.0 641.0,1572.1 645.0,1575.4 649.0,1574.5 653.0,1575.5 657.0,1580.5 661.0,1577.3 665.0,1575.2 669.0,1577.1 673.0,1579.0 677.0,1574.4 681.0,1576.6 685.0,1581.7 689.0,1580.1 693.0,1577.8 697.0,1576.9 701.0,1578.0 705.0,1574.4 709.0,1581.2 713.0,1579.7 717.0,1579.2 721.0,1575.5 725.0,1577.1 729.0,1580.6 733.0,1580.0 737.0,1578.0 741.0,1580.8 745.0,1582.1 749.0,1577.9 753.0,1578.4 757.0,1577.5 761.0,1576.9 765.0,1582.2 769.0,1581.6 773.0,1581.2 777.0,1577.2 781.0,1577.7 785.0,1580.4 789.0,1579.6 793.0,1581.1 797.0,1579.0 801.0,1582.8 805.0,1585.9 809.0,1585.3 813.0,1585.5 817.0,1581.4 821.0,1583.8 825.0,1580.3 829.0,1583.9 833.0,1580.4 837.0,1580.2 841.0,1579.8 845.0,1583.5 849.0,1582.4 853.0,1582.2 857.0,1578.7 861.0,1582.2 865.0,1577.9 869.0,1585.9 873.0,1581.6 877.0,1582.5 881.0,1581.8 885.0,1577.8 889.0,1578.4 893.0,1582.1 897.0,1586.3 901.0,1579.3 905.0,1580.4 909.0,1582.3 913.0,1577.9 917.0,1577.9 921.0,1581.4 925.0,1582.5 929.0,1581.6 933.0,1586.9 937.0,1582.3 941.0,1583.8 945.0,1587.2 949.0,1587.5 953.0,1578.7 957.0,1585.0 961.0,1593.9 965.0,1578.3 969.0,1582.9 973.0,1585.2 977.0,1588.4 981.0,1592.4 985.0,1585.2 989.0,1585.4 993.0,1586.1 997.0,1581.9 1001.0,1576.5 1005.0,1581.7 1009.0,1580.9 1013.0,1582.7 1017.0,1581.4 1021.0,1576.8 1025.0,1582.8 1029.0,1576.0 1033.0,1579.7 1037.0,1582.4 1041.0,1582.5 1045.0,1585.7 1049.0,1575.1 1053.0,1582.3 1057.0,1583.2 1061.0,1580.5 1065.0,1583.0 1069.0,1578.3 1073.0,1583.0 1077.0,1582.7 1081.0,1578.5 1085.0,1579.3 1089.0,1580.6 1093.0,1579.3 1097.0,1583.8 1101.0,1581.5 1105.0,1584.8 1109.0,1584.6 1113.0,1581.8 1117.0,1581.3 1121.0,1582.0 1125.0,1592.7 1129.0,1595.1 1133.0,1592.6 1137.0,1583.8 1141.0,1581.7 1145.0,1580.0 1149.0,1576.2 1153.0,1576.8 1157.0,1581.6 1161.0,1582.5 1165.0,1576.4 1169.0,1578.4 1173.0,1578.3 1177.0,1579.0 1181.0,1584.2 1185.0,1582.4 1189.0,1584.3 1193.0,1586.1 1197.0,1580.5 1201.0,1581.5 1205.0,1582.2 1209.0,1584.9 1213.0,1582.0 1217.0,1584.0 1221.0,1585.5 1225.0,1585.6 1229.0,1583.7 1233.0,1580.4 1237.0,1578.4 1241.0,1585.7 1245.0,1584.0 1249.0,1580.3 1253.0,1581.5 1257.0,1581.7 1261.0,1578.5 1265.0,1583.8 1269.0,1581.0 1273.0,1582.4 1277.0,1585.3 1281.0,1583.1 1285.0,1584.9 1289.0,1584.6 1293.0,1583.6 1297.0,1583.7 1301.0,1588.7 1305.0,1583.3 1309.0,1588.2 1313.0,1581.4 1317.0,1585.9" stroke="#4f5a8c" stroke-width="2" fill="none" stroke-linejoin="round" stroke-linecap="round" />
<polyline points="145.0,1640.7 149.0,1637.4 153.0,1640.1 157.0,1634.5 161.0,1641.7 165.0,1635.1 169.0,1639.6 173.0,1639.3 177.0,1637.3 181.0,1648.0 185.0,1638.0 189.0,1641.1 193.0,1643.0 197.0,1636.3 201.0,1643.8 205.0,1639.6 209.0,1642.9 213.0,1637.4 217.0,1637.1 221.0,1643.6 225.0,1641.6 229.0,1640.6 233.0,1642.1 237.0,1641.8 241.0,1637.0 245.0,1634.0 249.0,1635.5 253.0,1635.3 257.0,1634.1 261.0,1638.7 265.0,1639.1 269.0,1640.5 273.0,1641.3 277.0,1640.3 281.0,1642.0 285.0,1644.3 289.0,1642.6 293.0,1644.7 297.0,1648.3 301.0,1647.5 305.0,1649.2 309.0,1651.9 313.0,1656.2 317.0,1652.2 321.0,1649.3 325.0,1647.5 329.0,1647.8 333.0,1653.6 337.0,1636.9 341.0,1646.6 345.0,1644.6 349.0,1645.4 353.0,1638.5 357.0,1646.9 361.0,1642.6 365.0,1638.5 369.0,1638.1 373.0,1634.5 377.0,1635.7 381.0,1634.1 385.0,1636.2 389.0,1633.4 393.0,1631.1 397.0,1632.2 401.0,1630.8 405.0,1628.8 409.0,1624.5 413.0,1633.0 417.0,1627.8 421.0,1629.4 425.0,1633.1 429.0,1636.0 433.0,1639.7 437.0,1631.8 441.0,1642.1 445.0,1643.7 449.0,1638.7 453.0,1640.6 457.0,1640.6 461.0,1641.6 465.0,1640.6 469.0,1640.7 473.0,1646.1 477.0,1648.6 481.0,1653.7 485.0,1645.9 489.0,1643.2 493.0,1650.1 497.0,1648.8 501.0,1651.6 505.0,1649.8 509.0,1647.8 513.0,1649.9 517.0,1654.6 521.0,1653.5 525.0,1649.7 529.0,1654.3 533.0,1646.9 537.0,1648.8 541.0,1650.2 545.0,1645.0 549.0,1644.8 553.0,1647.6 557.0,1646.6 561.0,1645.4 565.0,1643.8 569.0,1641.5 573.0,1641.7 577.0,1652.1 581.0,1640.7 585.0,1646.2 589.0,1639.4 593.0,1644.4 597.0,1643.3 601.0,1642.2 605.0,1642.9 609.0,1644.7 613.0,1656.2 617.0,1654.4 621.0,1659.1 625.0,1669.0 629.0,1669.6 633.0,1666.2 637.0,1666.2 641.0,1665.8 645.0,1669.5 649.0,1667.8 653.0,1665.6 657.0,1668.6 661.0,1662.6 665.0,1645.7 669.0,1643.0 673.0,1641.8 677.0,1646.7 681.0,1643.7 685.0,1644.6 689.0,1651.5 693.0,1644.1 697.0,1646.4 701.0,1652.4 705.0,1653.8 709.0,1652.0 713.0,1643.1 717.0,1652.9 721.0,1652.8 725.0,1651.1 729.0,1652.9 733.0,1655.1 737.0,1651.2 741.0,1648.4 745.0,1645.9 749.0,1651.4 753.0,1649.3 757.0,1649.7 761.0,1648.2 765.0,1652.3 769.0,1653.7 773.0,1652.9 777.0,1648.4 781.0,1654.3 785.0,1652.7 789.0,1644.6 793.0,1653.6 797.0,1646.1 801.0,1648.7 805.0,1655.1 809.0,1654.0 813.0,1650.3 817.0,1649.6 821.0,1653.2 825.0,1647.0 829.0,1653.5 833.0,1651.5 837.0,1654.5 841.0,1652.0 845.0,1649.3 849.0,1653.1 853.0,1651.5 857.0,1648.4 861.0,1649.2 865.0,1649.7 869.0,1652.8 873.0,1654.9 877.0,1652.7 881.0,1649.3 885.0,1651.7 889.0,1654.5 893.0,1656.1 897.0,1650.2 901.0,1653.8 905.0,1651.9 909.0,1646.8 913.0,1649.4 917.0,1651.5 921.0,1651.7 925.0,1652.1 929.0,1651.5 933.0,1654.4 937.0,1650.6 941.0,1648.8 945.0,1654.9 949.0,1651.7 953.0,1655.8 957.0,1651.2 961.0,1657.4 965.0,1650.1 969.0,1650.2 973.0,1655.7 977.0,1658.9 981.0,1651.5 985.0,1658.4 989.0,1658.3 993.0,1656.2 997.0,1653.3 1001.0,1647.5 1005.0,1648.6 1009.0,1650.1 1013.0,1653.3 1017.0,1650.6 1021.0,1648.5 1025.0,1650.0 1029.0,1644.3 1033.0,1649.5 1037.0,1645.0 1041.0,1650.8 1045.0,1646.9 1049.0,1643.5 1053.0,1643.5 1057.0,1639.7 1061.0,1644.2 1065.0,1640.1 1069.0,1642.0 1073.0,1645.0 1077.0,1642.0 1081.0,1641.7 1085.0,1647.3 1089.0,1641.0 1093.0,1641.6 1097.0,1639.5 1101.0,1641.2 1105.0,1649.7 1109.0,1650.1 1113.0,1649.2 1117.0,1664.1 1121.0,1667.8 1125.0,1661.8 1129.0,1662.0 1133.0,1651.4 1137.0,1637.4 1141.0,1633.8 1145.0,1648.3 1149.0,1641.3 1153.0,1638.6 1157.0,1637.9 1161.0,1637.6 1165.0,1635.6 1169.0,1638.9 1173.0,1639.1 1177.0,1644.3 1181.0,1639.0 1185.0,1645.4 1189.0,1642.5 1193.0,1642.2 1197.0,1644.7 1201.0,1645.9 1205.0,1646.6 1209.0,1648.6 1213.0,1648.1 1217.0,1643.6 1221.0,1646.7 1225.0,1654.0 1229.0,1649.5 1233.0,1643.4 1237.0,1651.0 1241.0,1655.8 1245.0,1654.6 1249.0,1651.6 1253.0,1652.4 1257.0,1654.0 1261.0,1652.0 1265.0,1651.3 1269.0,1657.8 1273.0,1652.2 1277.0,1656.6 1281.0,1649.4 1285.0,1652.0 1289.0,1651.2 1293.0,1656.1 1297.0,1653.4 1301.0,1653.6 1305.0,1653.2 1309.0,1656.6 1313.0,1659.3 1317.0,1655.0" stroke="#4f5a8c" stroke-width="2" fill="none" stroke-linejoin="round" stroke-linecap="round" />
<polyline points="145.0,1707.4 149.0,1710.5 153.0,1707.4 157.0,1707.9 161.0,1709.4 165.0,1706.4 169.0,1707.7 173.0,1705.5 177.0,1706.9 181.0,1701.7 185.0,1704.0 189.0,1704.3 193.0,1710.8 197.0,1710.2 201.0,1713.4 205.0,1710.8 209.0,1709.3 213.0,1713.8 217.0,1708.7 221.0,1706.0 225.0,1702.5 229.0,1707.4 233.0,1705.8 237.0,1699.3 241.0,1700.9 245.0,1701.0 249.0,1695.0 253.0,1697.7 257.0,1702.8 261.0,1696.6 265.0,1704.2 269.0,1709.9 273.0,1705.1 277.0,1707.4 281.0,1711.2 285.0,1713.9 289.0,1715.5 293.0,1712.3 297.0,1716.2 301.0,1720.5 305.0,1721.3 309.0,1727.1 313.0,1723.7 317.0,1722.7 321.0,1727.9 325.0,1721.8 329.0,1718.5 333.0,1720.3 337.0,1718.8 341.0,1720.5 345.0,1718.9 349.0,1716.0 353.0,1715.0 357.0,1713.7 361.0,1717.9 365.0,1718.9 369.0,1712.4 373.0,1713.2 377.0,1711.6 381.0,1708.1 385.0,1707.0 389.0,1705.9 393.0,1700.9 397.0,1702.9 401.0,1705.0 405.0,1705.2 409.0,1701.8 413.0,1701.1 417.0,1703.7 421.0,1707.3 425.0,1699.0 429.0,1699.2 433.0,1699.9 437.0,1702.4 441.0,1698.4 445.0,1701.8 449.0,1698.4 453.0,1701.6 457.0,1701.8 461.0,1706.8 465.0,1715.4 469.0,1714.9 473.0,1717.3 477.0,1722.7 481.0,1724.0 485.0,1723.8 489.0,1718.6 493.0,1727.7 497.0,1728.0 501.0,1727.4 505.0,1724.2 509.0,1731.4 513.0,1733.6 517.0,1730.0 521.0,1731.9 525.0,1726.3 529.0,1728.3 533.0,1725.7 537.0,1724.2 541.0,1726.0 545.0,1724.2 549.0,1724.3 553.0,1724.0 557.0,1724.7 561.0,1724.7 565.0,1725.6 569.0,1721.6 573.0,1725.5 577.0,1719.5 581.0,1724.3 585.0,1724.0 589.0,1717.3 593.0,1722.3 597.0,1725.9 601.0,1725.6 605.0,1727.0 609.0,1730.8 613.0,1736.8 617.0,1737.3 621.0,1739.9 625.0,1738.9 629.0,1741.7 633.0,1741.2 637.0,1738.8 641.0,1739.0 645.0,1741.1 649.0,1744.4 653.0,1741.8 657.0,1747.4 661.0,1741.6 665.0,1745.9 669.0,1744.9 673.0,1749.0 677.0,1749.4 681.0,1749.4 685.0,1747.3 689.0,1749.1 693.0,1748.8 697.0,1748.4 701.0,1739.1 705.0,1737.3 709.0,1733.6 713.0,1723.9 717.0,1725.2 721.0,1722.7 725.0,1729.6 729.0,1734.7 733.0,1732.3 737.0,1737.9 741.0,1740.7 745.0,1739.9 749.0,1738.2 753.0,1740.4 757.0,1738.3 761.0,1739.4 765.0,1747.3 769.0,1739.9 773.0,1739.8 777.0,1742.4 781.0,1743.2 785.0,1744.8 789.0,1741.1 793.0,1740.7 797.0,1741.3 801.0,1746.8 805.0,1748.7 809.0,1744.8 813.0,1746.4 817.0,1748.8 821.0,1747.3 825.0,1749.5 829.0,1754.4 833.0,1749.6 837.0,1754.9 841.0,1758.1 845.0,1753.0 849.0,1759.8 853.0,1757.9 857.0,1757.5 861.0,1762.3 865.0,1761.1 869.0,1761.3 873.0,1761.4 877.0,1761.7 881.0,1763.0 885.0,1763.2 889.0,1765.2 893.0,1761.8 897.0,1762.6 901.0,1760.1 905.0,1761.7 909.0,1759.6 913.0,1762.5 917.0,1759.1 921.0,1753.2 925.0,1756.7 929.0,1755.2 933.0,1758.3 937.0,1755.1 941.0,1756.7 945.0,1755.7 949.0,1751.1 953.0,1750.8 957.0,1750.4 961.0,1746.0 965.0,1756.8 969.0,1747.7 973.0,1741.5 977.0,1739.7 981.0,1742.6 985.0,1739.8 989.0,1735.4 993.0,1733.6 997.0,1736.9 1001.0,1734.3 1005.0,1735.3 1009.0,1732.5 1013.0,1734.5 1017.0,1725.2 1021.0,1731.2 1025.0,1726.8 1029.0,1726.0 1033.0,1730.6 1037.0,1722.2 1041.0,1726.7 1045.0,1725.4 1049.0,1729.1 1053.0,1723.2 1057.0,1729.6 1061.0,1731.4 1065.0,1731.6 1069.0,1733.4 1073.0,1734.2 1077.0,1732.2 1081.0,1736.2 1085.0,1733.9 1089.0,1742.3 1093.0,1742.7 1097.0,1736.7 1101.0,1744.1 1105.0,1740.7 1109.0,1737.4 1113.0,1739.9 1117.0,1743.8 1121.0,1742.3 1125.0,1740.1 1129.0,1745.1 1133.0,1743.1 1137.0,1741.5 1141.0,1730.8 1145.0,1726.9 1149.0,1721.3 1153.0,1716.5 1157.0,1718.8 1161.0,1719.1 1165.0,1720.5 1169.0,1717.5 1173.0,1726.0 1177.0,1721.7 1181.0,1724.0 1185.0,1721.5 1189.0,1728.9 1193.0,1725.2 1197.0,1719.9 1201.0,1728.3 1205.0,1726.2 1209.0,1724.3 1213.0,1727.8 1217.0,1726.3 1221.0,1731.4 1225.0,1731.2 1229.0,1724.6 1233.0,1729.0 1237.0,1728.8 1241.0,1718.1 1245.0,1727.2 1249.0,1724.3 1253.0,1723.5 1257.0,1724.0 1261.0,1718.8 1265.0,1715.4 1269.0,1717.6 1273.0,1717.6 1277.0,1720.8 1281.0,1714.7 1285.0,1721.4 1289.0,1731.0 1293.0,1726.4 1297.0,1729.6 1301.0,1729.4 1305.0,1729.3 1309.0,1734.3 1313.0,1735.9 1317.0,1734.7" stroke="#7880aa" stroke-width="2.6" fill="none" stroke-linejoin="round" stroke-linecap="round" opacity="0.8"/>
<polyline points="145.0,1810.2 149.0,1806.4 153.0,1806.9 157.0,1806.5 161.0,1801.5 165.0,1807.5 169.0,1803.3 173.0,1808.1 177.0,1806.3 181.0,1810.9 185.0,1807.7 189.0,1808.5 193.0,1805.8 197.0,1810.6 201.0,1808.6 205.0,1811.0 209.0,1811.8 213.0,1811.9 217.0,1809.4 221.0,1805.1 225.0,1807.3 229.0,1812.9 233.0,1813.6 237.0,1814.6 241.0,1809.9 245.0,1808.9 249.0,1814.3 253.0,1814.4 257.0,1812.3 261.0,1812.4 265.0,1809.0 269.0,1812.3 273.0,1816.7 277.0,1810.9 281.0,1812.3 285.0,1813.4 289.0,1813.1 293.0,1809.4 297.0,1813.1 301.0,1813.2 305.0,1814.1 309.0,1813.1 313.0,1812.8 317.0,1808.7 321.0,1814.6 325.0,1807.8 329.0,1811.2 333.0,1809.8 337.0,1804.8 341.0,1799.9 345.0,1795.8 349.0,1796.2 353.0,1798.1 357.0,1797.9 361.0,1794.0 365.0,1793.3 369.0,1800.6 373.0,1792.7 377.0,1787.3 381.0,1791.4 385.0,1786.9 389.0,1782.6 393.0,1789.3 397.0,1786.5 401.0,1788.4 405.0,1792.8 409.0,1788.4 413.0,1786.1 417.0,1793.2 421.0,1783.3 425.0,1786.2 429.0,1793.5 433.0,1794.1 437.0,1789.5 441.0,1788.6 445.0,1791.7 449.0,1792.0 453.0,1791.9 457.0,1790.4 461.0,1788.5 465.0,1790.8 469.0,1793.6 473.0,1795.6 477.0,1796.9 481.0,1800.3 485.0,1797.9 489.0,1807.2 493.0,1810.4 497.0,1807.1 501.0,1807.4 505.0,1815.4 509.0,1819.2 513.0,1820.7 517.0,1823.3 521.0,1818.0 525.0,1815.4 529.0,1821.3 533.0,1814.7 537.0,1813.7 541.0,1807.5 545.0,1811.6 549.0,1809.7 553.0,1810.2 557.0,1810.9 561.0,1808.4 565.0,1803.6 569.0,1809.2 573.0,1808.3 577.0,1809.8 581.0,1809.1 585.0,1810.6 589.0,1807.6 593.0,1808.1 597.0,1811.5 601.0,1812.4 605.0,1817.6 609.0,1814.1 613.0,1827.5 617.0,1832.9 621.0,1839.1 625.0,1835.6 629.0,1836.7 633.0,1839.4 637.0,1841.5 641.0,1836.0 645.0,1838.9 649.0,1845.0 653.0,1845.2 657.0,1845.4 661.0,1850.5 665.0,1843.2 669.0,1848.7 673.0,1848.2 677.0,1851.4 681.0,1849.7 685.0,1853.4 689.0,1860.8 693.0,1856.5 697.0,1856.5 701.0,1861.4 705.0,1859.9 709.0,1865.0 713.0,1856.3 717.0,1851.3 721.0,1844.3 725.0,1842.8 729.0,1835.8 733.0,1840.7 737.0,1834.1 741.0,1837.1 745.0,1838.0 749.0,1839.4 753.0,1840.6 757.0,1839.1 761.0,1849.2 765.0,1845.9 769.0,1853.6 773.0,1852.5 777.0,1848.5 781.0,1852.3 785.0,1853.5 789.0,1854.2 793.0,1855.4 797.0,1858.0 801.0,1857.8 805.0,1858.6 809.0,1862.2 813.0,1862.9 817.0,1861.7 821.0,1864.6 825.0,1862.6 829.0,1865.2 833.0,1864.4 837.0,1867.9 841.0,1860.2 845.0,1870.2 849.0,1864.6 853.0,1869.4 857.0,1864.8 861.0,1866.3 865.0,1868.3 869.0,1866.3 873.0,1866.3 877.0,1867.5 881.0,1872.4 885.0,1863.9 889.0,1868.9 893.0,1873.2 897.0,1867.9 901.0,1871.9 905.0,1860.5 909.0,1861.9 913.0,1863.1 917.0,1861.2 921.0,1860.5 925.0,1863.1 929.0,1857.3 933.0,1860.2 937.0,1859.0 941.0,1856.8 945.0,1862.2 949.0,1854.3 953.0,1859.7 957.0,1850.9 961.0,1852.8 965.0,1851.0 969.0,1846.6 973.0,1849.5 977.0,1849.6 981.0,1846.8 985.0,1843.7 989.0,1846.0 993.0,1843.0 997.0,1840.7 1001.0,1830.2 1005.0,1836.4 1009.0,1837.9 1013.0,1831.0 1017.0,1824.4 1021.0,1830.1 1025.0,1831.8 1029.0,1827.6 1033.0,1830.8 1037.0,1832.8 1041.0,1829.2 1045.0,1830.1 1049.0,1835.4 1053.0,1831.2 1057.0,1828.4 1061.0,1832.6 1065.0,1833.0 1069.0,1831.5 1073.0,1831.0 1077.0,1829.1 1081.0,1838.7 1085.0,1828.5 1089.0,1831.3 1093.0,1832.5 1097.0,1833.9 1101.0,1829.9 1105.0,1831.6 1109.0,1829.1 1113.0,1835.2 1117.0,1832.4 1121.0,1844.3 1125.0,1841.1 1129.0,1838.5 1133.0,1832.3 1137.0,1823.4 1141.0,1822.6 1145.0,1820.8 1149.0,1821.8 1153.0,1814.6 1157.0,1819.2 1161.0,1817.9 1165.0,1817.0 1169.0,1819.5 1173.0,1823.4 1177.0,1825.3 1181.0,1820.9 1185.0,1822.9 1189.0,1822.4 1193.0,1823.5 1197.0,1824.5 1201.0,1816.8 1205.0,1817.5 1209.0,1814.0 1213.0,1823.6 1217.0,1818.3 1221.0,1813.2 1225.0,1822.7 1229.0,1815.7 1233.0,1816.0 1237.0,1815.9 1241.0,1816.6 1245.0,1808.7 1249.0,1813.0 1253.0,1815.0 1257.0,1814.0 1261.0,1813.7 1265.0,1813.6 1269.0,1812.1 1273.0,1809.0 1277.0,1813.6 1281.0,1820.9 1285.0,1821.4 1289.0,1820.4 1293.0,1823.6 1297.0,1829.5 1301.0,1825.6 1305.0,1825.5 1309.0,1836.1 1313.0,1829.6 1317.0,1828.6" stroke="#4a5478" stroke-width="2" fill="none" stroke-linejoin="round" stroke-linecap="round" />
<polyline points="145.0,1912.0 149.0,1912.8 153.0,1910.6 157.0,1908.7 161.0,1909.8 165.0,1903.5 169.0,1904.4 173.0,1903.6 177.0,1904.8 181.0,1903.4 185.0,1903.3 189.0,1905.3 193.0,1906.7 197.0,1906.4 201.0,1904.3 205.0,1907.9 209.0,1906.3 213.0,1911.6 217.0,1909.6 221.0,1908.3 225.0,1908.5 229.0,1906.6 233.0,1910.1 237.0,1907.2 241.0,1911.7 245.0,1906.2 249.0,1908.6 253.0,1916.1 257.0,1916.8 261.0,1916.7 265.0,1908.9 269.0,1910.2 273.0,1910.8 277.0,1910.9 281.0,1916.9 285.0,1915.9 289.0,1918.1 293.0,1917.7 297.0,1917.7 301.0,1926.3 305.0,1923.3 309.0,1919.9 313.0,1925.9 317.0,1920.0 321.0,1920.3 325.0,1924.0 329.0,1917.3 333.0,1917.9 337.0,1917.0 341.0,1921.7 345.0,1921.5 349.0,1916.0 353.0,1919.7 357.0,1910.1 361.0,1912.4 365.0,1915.5 369.0,1910.4 373.0,1911.1 377.0,1909.9 381.0,1910.3 385.0,1908.2 389.0,1902.7 393.0,1904.2 397.0,1900.1 401.0,1900.5 405.0,1891.1 409.0,1892.2 413.0,1902.0 417.0,1904.1 421.0,1914.0 425.0,1911.7 429.0,1907.2 433.0,1915.3 437.0,1911.3 441.0,1908.0 445.0,1903.4 449.0,1904.7 453.0,1904.9 457.0,1903.9 461.0,1904.3 465.0,1906.8 469.0,1906.8 473.0,1904.6 477.0,1909.3 481.0,1911.0 485.0,1916.0 489.0,1912.1 493.0,1910.2 497.0,1917.3 501.0,1916.8 505.0,1912.4 509.0,1909.8 513.0,1916.4 517.0,1906.8 521.0,1908.8 525.0,1910.4 529.0,1906.0 533.0,1907.5 537.0,1908.5 541.0,1905.2 545.0,1901.9 549.0,1902.9 553.0,1903.4 557.0,1905.9 561.0,1899.2 565.0,1905.2 569.0,1898.5 573.0,1905.2 577.0,1907.9 581.0,1906.1 585.0,1902.7 589.0,1908.3 593.0,1907.5 597.0,1906.3 601.0,1905.1 605.0,1906.5 609.0,1911.5 613.0,1922.6 617.0,1922.0 621.0,1926.1 625.0,1924.8 629.0,1927.2 633.0,1925.7 637.0,1924.7 641.0,1927.1 645.0,1925.7 649.0,1927.5 653.0,1927.0 657.0,1925.6 661.0,1929.1 665.0,1929.4 669.0,1920.4 673.0,1927.5 677.0,1927.9 681.0,1928.2 685.0,1933.8 689.0,1932.1 693.0,1932.2 697.0,1932.7 701.0,1938.0 705.0,1933.4 709.0,1938.4 713.0,1939.1 717.0,1941.1 721.0,1942.8 725.0,1942.0 729.0,1943.5 733.0,1948.0 737.0,1947.3 741.0,1950.2 745.0,1942.4 749.0,1933.6 753.0,1934.8 757.0,1934.2 761.0,1937.0 765.0,1942.0 769.0,1941.8 773.0,1938.3 777.0,1943.6 781.0,1942.6 785.0,1948.0 789.0,1946.6 793.0,1943.9 797.0,1940.3 801.0,1949.1 805.0,1949.9 809.0,1951.2 813.0,1960.4 817.0,1956.1 821.0,1959.3 825.0,1955.6 829.0,1961.2 833.0,1959.1 837.0,1957.6 841.0,1962.1 845.0,1963.5 849.0,1960.3 853.0,1966.6 857.0,1962.4 861.0,1957.6 865.0,1954.7 869.0,1962.9 873.0,1962.6 877.0,1961.7 881.0,1957.0 885.0,1956.6 889.0,1960.2 893.0,1957.0 897.0,1957.7 901.0,1959.1 905.0,1959.3 909.0,1952.8 913.0,1953.1 917.0,1952.8 921.0,1949.1 925.0,1952.0 929.0,1945.1 933.0,1947.8 937.0,1944.0 941.0,1947.2 945.0,1942.7 949.0,1939.2 953.0,1938.8 957.0,1934.8 961.0,1938.7 965.0,1935.0 969.0,1933.4 973.0,1933.8 977.0,1932.7 981.0,1928.7 985.0,1925.3 989.0,1930.1 993.0,1926.8 997.0,1925.2 1001.0,1926.6 1005.0,1923.0 1009.0,1927.5 1013.0,1922.2 1017.0,1921.6 1021.0,1922.2 1025.0,1920.4 1029.0,1920.4 1033.0,1920.6 1037.0,1917.9 1041.0,1920.5 1045.0,1918.9 1049.0,1923.5 1053.0,1916.9 1057.0,1915.2 1061.0,1914.4 1065.0,1917.4 1069.0,1916.5 1073.0,1912.7 1077.0,1917.0 1081.0,1909.9 1085.0,1911.2 1089.0,1912.8 1093.0,1914.4 1097.0,1912.8 1101.0,1919.4 1105.0,1919.3 1109.0,1917.2 1113.0,1917.7 1117.0,1917.9 1121.0,1917.5 1125.0,1918.5 1129.0,1917.7 1133.0,1915.8 1137.0,1910.1 1141.0,1886.7 1145.0,1886.9 1149.0,1892.8 1153.0,1889.1 1157.0,1892.2 1161.0,1897.5 1165.0,1896.2 1169.0,1896.2 1173.0,1897.2 1177.0,1899.3 1181.0,1900.1 1185.0,1896.6 1189.0,1896.7 1193.0,1898.3 1197.0,1901.1 1201.0,1907.8 1205.0,1901.7 1209.0,1900.7 1213.0,1902.6 1217.0,1901.6 1221.0,1896.4 1225.0,1891.9 1229.0,1903.9 1233.0,1895.1 1237.0,1894.0 1241.0,1898.0 1245.0,1891.2 1249.0,1892.4 1253.0,1888.6 1257.0,1894.4 1261.0,1889.1 1265.0,1891.0 1269.0,1895.4 1273.0,1895.2 1277.0,1904.5 1281.0,1900.4 1285.0,1898.9 1289.0,1907.9 1293.0,1910.6 1297.0,1913.3 1301.0,1911.3 1305.0,1910.4 1309.0,1910.1 1313.0,1911.3 1317.0,1907.0" stroke="#56608e" stroke-width="2" fill="none" stroke-linejoin="round" stroke-linecap="round" />
<polyline points="145.0,2013.3 149.0,2008.0 153.0,2009.7 157.0,2010.6 161.0,2006.2 165.0,2007.0 169.0,2005.5 173.0,2008.4 177.0,2004.0 181.0,2005.6 185.0,2002.4 189.0,2004.9 193.0,2000.8 197.0,2000.6 201.0,2002.7 205.0,2009.0 209.0,2003.5 213.0,2000.6 217.0,2001.9 221.0,2012.0 225.0,2004.8 229.0,2005.4 233.0,2006.7 237.0,2010.5 241.0,2008.4 245.0,2008.5 249.0,2007.6 253.0,2005.9 257.0,2008.5 261.0,2007.9 265.0,2005.8 269.0,2003.6 273.0,2014.5 277.0,2014.8 281.0,2014.3 285.0,2014.8 289.0,2015.1 293.0,2016.3 297.0,2020.8 301.0,2026.9 305.0,2027.4 309.0,2025.7 313.0,2023.2 317.0,2027.2 321.0,2026.0 325.0,2027.5 329.0,2026.7 333.0,2019.3 337.0,2021.4 341.0,2018.5 345.0,2018.4 349.0,2021.9 353.0,2019.8 357.0,2015.5 361.0,2015.7 365.0,2013.5 369.0,2010.2 373.0,2008.9 377.0,2006.4 381.0,2011.3 385.0,2003.5 389.0,2003.7 393.0,2003.2 397.0,2000.2 401.0,2005.6 405.0,2006.6 409.0,2002.9 413.0,2010.1 417.0,2019.0 421.0,2016.3 425.0,2016.7 429.0,2015.4 433.0,2013.7 437.0,2010.0 441.0,2010.2 445.0,2009.0 449.0,2005.0 453.0,2006.7 457.0,2006.1 461.0,2008.3 465.0,2011.0 469.0,2010.4 473.0,2009.5 477.0,2016.3 481.0,2016.9 485.0,2014.3 489.0,2015.8 493.0,2021.4 497.0,2023.7 501.0,2019.2 505.0,2024.0 509.0,2022.2 513.0,2022.0 517.0,2022.8 521.0,2025.0 525.0,2016.7 529.0,2022.1 533.0,2019.5 537.0,2021.6 541.0,2014.5 545.0,2013.9 549.0,2014.7 553.0,2011.9 557.0,2014.4 561.0,2009.7 565.0,2010.1 569.0,2007.5 573.0,2003.4 577.0,2008.6 581.0,2005.8 585.0,2008.1 589.0,2008.5 593.0,2011.2 597.0,2007.0 601.0,2014.8 605.0,2016.4 609.0,2020.4 613.0,2022.9 617.0,2022.5 621.0,2024.6 625.0,2023.3 629.0,2025.4 633.0,2026.4 637.0,2027.0 641.0,2025.6 645.0,2022.6 649.0,2030.0 653.0,2030.3 657.0,2023.1 661.0,2025.4 665.0,2033.6 669.0,2032.7 673.0,2030.5 677.0,2033.1 681.0,2028.6 685.0,2033.5 689.0,2038.1 693.0,2030.7 697.0,2038.7 701.0,2035.5 705.0,2044.4 709.0,2037.7 713.0,2038.6 717.0,2041.4 721.0,2042.5 725.0,2046.2 729.0,2050.1 733.0,2044.5 737.0,2047.9 741.0,2051.8 745.0,2050.0 749.0,2056.7 753.0,2058.2 757.0,2060.5 761.0,2061.4 765.0,2065.5 769.0,2069.4 773.0,2067.7 777.0,2069.7 781.0,2061.6 785.0,2051.4 789.0,2054.7 793.0,2054.7 797.0,2059.9 801.0,2057.8 805.0,2061.7 809.0,2062.8 813.0,2063.1 817.0,2070.0 821.0,2076.0 825.0,2074.0 829.0,2074.4 833.0,2075.2 837.0,2075.1 841.0,2081.0 845.0,2083.7 849.0,2082.7 853.0,2084.0 857.0,2082.3 861.0,2080.1 865.0,2085.4 869.0,2082.6 873.0,2079.6 877.0,2075.2 881.0,2075.8 885.0,2078.7 889.0,2077.4 893.0,2080.8 897.0,2074.8 901.0,2071.7 905.0,2070.2 909.0,2064.2 913.0,2070.2 917.0,2062.2 921.0,2065.0 925.0,2062.8 929.0,2063.6 933.0,2062.6 937.0,2061.5 941.0,2059.5 945.0,2056.5 949.0,2056.6 953.0,2054.4 957.0,2049.5 961.0,2052.1 965.0,2047.8 969.0,2048.4 973.0,2048.0 977.0,2044.1 981.0,2041.6 985.0,2046.2 989.0,2041.8 993.0,2041.7 997.0,2043.4 1001.0,2038.7 1005.0,2039.6 1009.0,2039.9 1013.0,2035.0 1017.0,2035.0 1021.0,2036.1 1025.0,2037.9 1029.0,2030.1 1033.0,2035.6 1037.0,2035.2 1041.0,2030.8 1045.0,2030.9 1049.0,2026.1 1053.0,2031.7 1057.0,2027.3 1061.0,2028.8 1065.0,2023.9 1069.0,2029.1 1073.0,2024.0 1077.0,2024.7 1081.0,2026.2 1085.0,2023.9 1089.0,2020.2 1093.0,2021.8 1097.0,2022.2 1101.0,2020.0 1105.0,2019.3 1109.0,2017.7 1113.0,2018.6 1117.0,2019.8 1121.0,2018.7 1125.0,2023.0 1129.0,2024.3 1133.0,2022.3 1137.0,2023.0 1141.0,2024.3 1145.0,2009.3 1149.0,2000.6 1153.0,2001.3 1157.0,2000.2 1161.0,2000.6 1165.0,1995.2 1169.0,1999.5 1173.0,1995.8 1177.0,1996.0 1181.0,1995.1 1185.0,1995.6 1189.0,1997.5 1193.0,1997.1 1197.0,1998.2 1201.0,1997.5 1205.0,2005.2 1209.0,2007.5 1213.0,2004.9 1217.0,2001.7 1221.0,2006.9 1225.0,2011.1 1229.0,2003.5 1233.0,2009.9 1237.0,2006.8 1241.0,1999.0 1245.0,2005.9 1249.0,2004.6 1253.0,2002.7 1257.0,1998.9 1261.0,2001.1 1265.0,2006.5 1269.0,1999.9 1273.0,1997.0 1277.0,2001.7 1281.0,2003.2 1285.0,2005.0 1289.0,2012.5 1293.0,2013.3 1297.0,2018.3 1301.0,2020.8 1305.0,2025.1 1309.0,2021.1 1313.0,2017.7 1317.0,2023.4" stroke="#5c6690" stroke-width="1.8" fill="none" stroke-linejoin="round" stroke-linecap="round" />
<line x1="639" y1="1531.5" x2="639" y2="1551.5" stroke="#e8101a" stroke-width="3.2"/>
<polygon points="631.5,1550.5 639.0,1564.5 646.5,1550.5" fill="#e8101a" />
<line x1="673.8" y1="1602" x2="673.8" y2="1622" stroke="#e8101a" stroke-width="3.2"/>
<polygon points="666.3,1621.0 673.8,1635.0 681.3,1621.0" fill="#e8101a" />
<line x1="714.3" y1="1687" x2="714.3" y2="1707" stroke="#e8101a" stroke-width="3.2"/>
<polygon points="706.8,1706.0 714.3,1720.0 721.8,1706.0" fill="#e8101a" />
<line x1="736.4" y1="1794" x2="736.4" y2="1814" stroke="#e8101a" stroke-width="3.2"/>
<polygon points="728.9,1813.0 736.4,1827.0 743.9,1813.0" fill="#e8101a" />
<line x1="753" y1="1891" x2="753" y2="1911" stroke="#e8101a" stroke-width="3.2"/>
<polygon points="745.5,1910.0 753.0,1924.0 760.5,1910.0" fill="#e8101a" />
<line x1="788.4" y1="2010" x2="788.4" y2="2030" stroke="#e8101a" stroke-width="3.2"/>
<polygon points="780.9,2029.0 788.4,2043.0 795.9,2029.0" fill="#e8101a" />
<path d="M1128,1566 C1112,1600 1100,1628 1096,1640 C1080,1680 1065,1705 1057,1728 C1043,1765 1035,1800 1029,1828 C1022,1860 1016,1880 1011,1897 L958,2100" stroke="#1d3aa0" stroke-width="3.2" fill="none" stroke-dasharray="7,4"/>
<text x="157.11" y="1557.00" font-family="Liberation Sans" font-size="29.79" font-weight="bold" fill="#111" textLength="145.79" lengthAdjust="spacingAndGlyphs" stroke="#111" stroke-width="0.8">14:29:30</text>
<text x="157.11" y="1626.40" font-family="Liberation Sans" font-size="29.36" font-weight="bold" fill="#111" textLength="145.79" lengthAdjust="spacingAndGlyphs" stroke="#111" stroke-width="0.8">14:43:50</text>
<text x="155.10" y="1688.00" font-family="Liberation Sans" font-size="28.79" font-weight="bold" fill="#111" textLength="146.36" lengthAdjust="spacingAndGlyphs" stroke="#111" stroke-width="0.8">15:01:29</text>
<text x="159.10" y="1781.80" font-family="Liberation Sans" font-size="29.93" font-weight="bold" fill="#111" textLength="145.89" lengthAdjust="spacingAndGlyphs" stroke="#111" stroke-width="0.8">15:17:00</text>
<text x="157.10" y="1878.80" font-family="Liberation Sans" font-size="30.36" font-weight="bold" fill="#111" textLength="145.90" lengthAdjust="spacingAndGlyphs" stroke="#111" stroke-width="0.8">15:34:27</text>
<text x="160.75" y="1984.30" font-family="Liberation Sans" font-size="30.65" font-weight="bold" fill="#111" textLength="142.73" lengthAdjust="spacingAndGlyphs" stroke="#111" stroke-width="0.8">16:04:23</text>
<text x="170.14" y="2204.37" font-family="Liberation Sans" font-size="33.08" font-weight="bold" fill="#e41e26" textLength="376.91" lengthAdjust="spacingAndGlyphs" stroke="#e41e26" stroke-width="0.8">@ Fiber #1 Location</text>
<text x="955.87" y="2231.01" font-family="Liberation Sans" font-size="29.00" font-weight="bold" fill="#1b3ca8" textLength="180.75" lengthAdjust="spacingAndGlyphs" stroke="#1b3ca8" stroke-width="0.8">@ Fiber #2</text>
<line x1="143.5" y1="1519" x2="143.5" y2="2249" stroke="#1f3fb8" stroke-width="3" />
<line x1="143" y1="2249.5" x2="1321" y2="2249.5" stroke="#2a3278" stroke-width="2.5" />
<text x="632.46" y="2275.40" font-family="Liberation Sans" font-size="24.92" font-weight="bold" fill="#1c2a80" textLength="54.23" lengthAdjust="spacingAndGlyphs" >0.5</text>
<text x="1308.54" y="2275.60" font-family="Liberation Sans" font-size="24.13" font-weight="bold" fill="#1c2a80" textLength="12.91" lengthAdjust="spacingAndGlyphs" >1</text>
<text x="617.46" y="2325.13" font-family="Liberation Sans" font-size="39.51" font-weight="bold" fill="#1a38a0" textLength="369.87" lengthAdjust="spacingAndGlyphs" >Fiber Length (m)</text>
<text x="0" y="0" transform="translate(120.10,2084.27) rotate(-90)" font-family="Liberation Sans" font-size="51.20" font-weight="bold" fill="#0a0a0a" textLength="105.17" lengthAdjust="spacingAndGlyphs">Strain</text>
<text x="0" y="0" transform="translate(119.43,1966.77) rotate(-90)" font-family="Liberation Sans" font-size="50.96" font-weight="bold" fill="#0a0a0a" textLength="190.70" lengthAdjust="spacingAndGlyphs">Amplitude</text>
<text x="0" y="0" transform="translate(119.31,1755.48) rotate(-90)" font-family="Liberation Sans" font-size="51.50" font-weight="bold" fill="#0a0a0a" textLength="73.16" lengthAdjust="spacingAndGlyphs">(με)</text>
</g>
<rect x="68.2" y="7.2" width="1259.6" height="1461.6" rx="2" fill="none" stroke="#0a30c8" stroke-width="6.6"/>
<rect x="71.4" y="1515.6" width="1258.6" height="829.2" rx="2" fill="none" stroke="#0a30c8" stroke-width="6.6"/>
<text x="12.03" y="85.09" font-family="Liberation Sans" font-size="62.43" font-weight="normal" fill="#000" textLength="28.37" lengthAdjust="spacingAndGlyphs" >a</text>
<text x="6.27" y="1592.86" font-family="Liberation Sans" font-size="66.04" font-weight="normal" fill="#000" textLength="36.48" lengthAdjust="spacingAndGlyphs" >b</text>
</svg>
</body></html>
